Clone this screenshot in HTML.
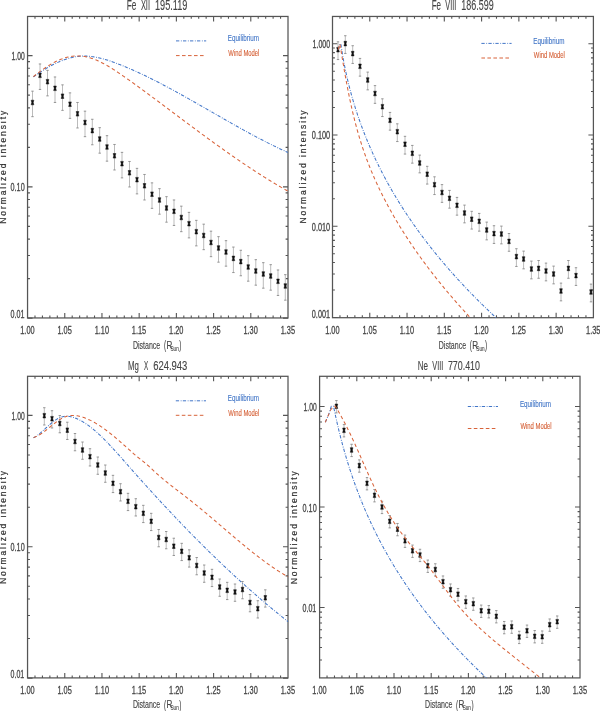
<!DOCTYPE html><html><head><meta charset="utf-8"><style>html,body{margin:0;padding:0;background:#fff;width:600px;height:711px;overflow:hidden}svg{display:block;will-change:transform}text{font-family:"Liberation Sans",sans-serif}</style></head><body>
<svg width="600" height="711" viewBox="0 0 600 711">
<rect width="600" height="711" fill="#fff"/>
<rect x="27.55" y="16.45" width="260.45" height="301.50" fill="none" stroke="#555" stroke-width="1.25"/>
<path d="M34.99 16.45v2.4M34.99 317.95v-2.4M42.43 16.45v2.4M42.43 317.95v-2.4M49.87 16.45v2.4M49.87 317.95v-2.4M57.32 16.45v2.4M57.32 317.95v-2.4M64.76 16.45v5.0M64.76 317.95v-5.0M72.20 16.45v2.4M72.20 317.95v-2.4M79.64 16.45v2.4M79.64 317.95v-2.4M87.08 16.45v2.4M87.08 317.95v-2.4M94.52 16.45v2.4M94.52 317.95v-2.4M101.96 16.45v5.0M101.96 317.95v-5.0M109.41 16.45v2.4M109.41 317.95v-2.4M116.85 16.45v2.4M116.85 317.95v-2.4M124.29 16.45v2.4M124.29 317.95v-2.4M131.73 16.45v2.4M131.73 317.95v-2.4M139.17 16.45v5.0M139.17 317.95v-5.0M146.61 16.45v2.4M146.61 317.95v-2.4M154.05 16.45v2.4M154.05 317.95v-2.4M161.50 16.45v2.4M161.50 317.95v-2.4M168.94 16.45v2.4M168.94 317.95v-2.4M176.38 16.45v5.0M176.38 317.95v-5.0M183.82 16.45v2.4M183.82 317.95v-2.4M191.26 16.45v2.4M191.26 317.95v-2.4M198.70 16.45v2.4M198.70 317.95v-2.4M206.14 16.45v2.4M206.14 317.95v-2.4M213.59 16.45v5.0M213.59 317.95v-5.0M221.03 16.45v2.4M221.03 317.95v-2.4M228.47 16.45v2.4M228.47 317.95v-2.4M235.91 16.45v2.4M235.91 317.95v-2.4M243.35 16.45v2.4M243.35 317.95v-2.4M250.79 16.45v5.0M250.79 317.95v-5.0M258.23 16.45v2.4M258.23 317.95v-2.4M265.68 16.45v2.4M265.68 317.95v-2.4M273.12 16.45v2.4M273.12 317.95v-2.4M280.56 16.45v2.4M280.56 317.95v-2.4M27.55 318.10h5.0M288.00 318.10h-5.0M27.55 278.59h2.4M288.00 278.59h-2.4M27.55 255.48h2.4M288.00 255.48h-2.4M27.55 239.08h2.4M288.00 239.08h-2.4M27.55 226.36h2.4M288.00 226.36h-2.4M27.55 215.97h2.4M288.00 215.97h-2.4M27.55 207.18h2.4M288.00 207.18h-2.4M27.55 199.57h2.4M288.00 199.57h-2.4M27.55 192.86h2.4M288.00 192.86h-2.4M27.55 186.85h5.0M288.00 186.85h-5.0M27.55 147.34h2.4M288.00 147.34h-2.4M27.55 124.23h2.4M288.00 124.23h-2.4M27.55 107.83h2.4M288.00 107.83h-2.4M27.55 95.11h2.4M288.00 95.11h-2.4M27.55 84.72h2.4M288.00 84.72h-2.4M27.55 75.93h2.4M288.00 75.93h-2.4M27.55 68.32h2.4M288.00 68.32h-2.4M27.55 61.61h2.4M288.00 61.61h-2.4M27.55 55.60h5.0M288.00 55.60h-5.0" fill="none" stroke="#555" stroke-width="1.1"/>
<rect x="332.50" y="16.45" width="260.90" height="301.25" fill="none" stroke="#555" stroke-width="1.25"/>
<path d="M339.95 16.45v2.4M339.95 317.70v-2.4M347.41 16.45v2.4M347.41 317.70v-2.4M354.86 16.45v2.4M354.86 317.70v-2.4M362.32 16.45v2.4M362.32 317.70v-2.4M369.77 16.45v5.0M369.77 317.70v-5.0M377.23 16.45v2.4M377.23 317.70v-2.4M384.68 16.45v2.4M384.68 317.70v-2.4M392.13 16.45v2.4M392.13 317.70v-2.4M399.59 16.45v2.4M399.59 317.70v-2.4M407.04 16.45v5.0M407.04 317.70v-5.0M414.50 16.45v2.4M414.50 317.70v-2.4M421.95 16.45v2.4M421.95 317.70v-2.4M429.41 16.45v2.4M429.41 317.70v-2.4M436.86 16.45v2.4M436.86 317.70v-2.4M444.31 16.45v5.0M444.31 317.70v-5.0M451.77 16.45v2.4M451.77 317.70v-2.4M459.22 16.45v2.4M459.22 317.70v-2.4M466.68 16.45v2.4M466.68 317.70v-2.4M474.13 16.45v2.4M474.13 317.70v-2.4M481.59 16.45v5.0M481.59 317.70v-5.0M489.04 16.45v2.4M489.04 317.70v-2.4M496.49 16.45v2.4M496.49 317.70v-2.4M503.95 16.45v2.4M503.95 317.70v-2.4M511.40 16.45v2.4M511.40 317.70v-2.4M518.86 16.45v5.0M518.86 317.70v-5.0M526.31 16.45v2.4M526.31 317.70v-2.4M533.77 16.45v2.4M533.77 317.70v-2.4M541.22 16.45v2.4M541.22 317.70v-2.4M548.67 16.45v2.4M548.67 317.70v-2.4M556.13 16.45v5.0M556.13 317.70v-5.0M563.58 16.45v2.4M563.58 317.70v-2.4M571.04 16.45v2.4M571.04 317.70v-2.4M578.49 16.45v2.4M578.49 317.70v-2.4M585.95 16.45v2.4M585.95 317.70v-2.4M332.50 317.50h5.0M593.40 317.50h-5.0M332.50 290.03h2.4M593.40 290.03h-2.4M332.50 273.96h2.4M593.40 273.96h-2.4M332.50 262.56h2.4M593.40 262.56h-2.4M332.50 253.72h2.4M593.40 253.72h-2.4M332.50 246.49h2.4M593.40 246.49h-2.4M332.50 240.38h2.4M593.40 240.38h-2.4M332.50 235.09h2.4M593.40 235.09h-2.4M332.50 230.43h2.4M593.40 230.43h-2.4M332.50 226.25h5.0M593.40 226.25h-5.0M332.50 198.78h2.4M593.40 198.78h-2.4M332.50 182.71h2.4M593.40 182.71h-2.4M332.50 171.31h2.4M593.40 171.31h-2.4M332.50 162.47h2.4M593.40 162.47h-2.4M332.50 155.24h2.4M593.40 155.24h-2.4M332.50 149.13h2.4M593.40 149.13h-2.4M332.50 143.84h2.4M593.40 143.84h-2.4M332.50 139.18h2.4M593.40 139.18h-2.4M332.50 135.00h5.0M593.40 135.00h-5.0M332.50 107.53h2.4M593.40 107.53h-2.4M332.50 91.46h2.4M593.40 91.46h-2.4M332.50 80.06h2.4M593.40 80.06h-2.4M332.50 71.22h2.4M593.40 71.22h-2.4M332.50 63.99h2.4M593.40 63.99h-2.4M332.50 57.88h2.4M593.40 57.88h-2.4M332.50 52.59h2.4M593.40 52.59h-2.4M332.50 47.93h2.4M593.40 47.93h-2.4M332.50 43.75h5.0M593.40 43.75h-5.0" fill="none" stroke="#555" stroke-width="1.1"/>
<rect x="27.55" y="376.30" width="260.45" height="301.60" fill="none" stroke="#555" stroke-width="1.25"/>
<path d="M34.99 376.30v2.4M34.99 677.90v-2.4M42.43 376.30v2.4M42.43 677.90v-2.4M49.87 376.30v2.4M49.87 677.90v-2.4M57.32 376.30v2.4M57.32 677.90v-2.4M64.76 376.30v5.0M64.76 677.90v-5.0M72.20 376.30v2.4M72.20 677.90v-2.4M79.64 376.30v2.4M79.64 677.90v-2.4M87.08 376.30v2.4M87.08 677.90v-2.4M94.52 376.30v2.4M94.52 677.90v-2.4M101.96 376.30v5.0M101.96 677.90v-5.0M109.41 376.30v2.4M109.41 677.90v-2.4M116.85 376.30v2.4M116.85 677.90v-2.4M124.29 376.30v2.4M124.29 677.90v-2.4M131.73 376.30v2.4M131.73 677.90v-2.4M139.17 376.30v5.0M139.17 677.90v-5.0M146.61 376.30v2.4M146.61 677.90v-2.4M154.05 376.30v2.4M154.05 677.90v-2.4M161.50 376.30v2.4M161.50 677.90v-2.4M168.94 376.30v2.4M168.94 677.90v-2.4M176.38 376.30v5.0M176.38 677.90v-5.0M183.82 376.30v2.4M183.82 677.90v-2.4M191.26 376.30v2.4M191.26 677.90v-2.4M198.70 376.30v2.4M198.70 677.90v-2.4M206.14 376.30v2.4M206.14 677.90v-2.4M213.59 376.30v5.0M213.59 677.90v-5.0M221.03 376.30v2.4M221.03 677.90v-2.4M228.47 376.30v2.4M228.47 677.90v-2.4M235.91 376.30v2.4M235.91 677.90v-2.4M243.35 376.30v2.4M243.35 677.90v-2.4M250.79 376.30v5.0M250.79 677.90v-5.0M258.23 376.30v2.4M258.23 677.90v-2.4M265.68 376.30v2.4M265.68 677.90v-2.4M273.12 376.30v2.4M273.12 677.90v-2.4M280.56 376.30v2.4M280.56 677.90v-2.4M27.55 678.10h5.0M288.00 678.10h-5.0M27.55 638.56h2.4M288.00 638.56h-2.4M27.55 615.43h2.4M288.00 615.43h-2.4M27.55 599.02h2.4M288.00 599.02h-2.4M27.55 586.29h2.4M288.00 586.29h-2.4M27.55 575.89h2.4M288.00 575.89h-2.4M27.55 567.10h2.4M288.00 567.10h-2.4M27.55 559.48h2.4M288.00 559.48h-2.4M27.55 552.76h2.4M288.00 552.76h-2.4M27.55 546.75h5.0M288.00 546.75h-5.0M27.55 507.21h2.4M288.00 507.21h-2.4M27.55 484.08h2.4M288.00 484.08h-2.4M27.55 467.67h2.4M288.00 467.67h-2.4M27.55 454.94h2.4M288.00 454.94h-2.4M27.55 444.54h2.4M288.00 444.54h-2.4M27.55 435.75h2.4M288.00 435.75h-2.4M27.55 428.13h2.4M288.00 428.13h-2.4M27.55 421.41h2.4M288.00 421.41h-2.4M27.55 415.40h5.0M288.00 415.40h-5.0" fill="none" stroke="#555" stroke-width="1.1"/>
<rect x="319.60" y="376.30" width="260.40" height="301.60" fill="none" stroke="#555" stroke-width="1.25"/>
<path d="M327.04 376.30v2.4M327.04 677.90v-2.4M334.48 376.30v2.4M334.48 677.90v-2.4M341.92 376.30v2.4M341.92 677.90v-2.4M349.36 376.30v2.4M349.36 677.90v-2.4M356.80 376.30v5.0M356.80 677.90v-5.0M364.24 376.30v2.4M364.24 677.90v-2.4M371.68 376.30v2.4M371.68 677.90v-2.4M379.12 376.30v2.4M379.12 677.90v-2.4M386.56 376.30v2.4M386.56 677.90v-2.4M394.00 376.30v5.0M394.00 677.90v-5.0M401.44 376.30v2.4M401.44 677.90v-2.4M408.88 376.30v2.4M408.88 677.90v-2.4M416.32 376.30v2.4M416.32 677.90v-2.4M423.76 376.30v2.4M423.76 677.90v-2.4M431.20 376.30v5.0M431.20 677.90v-5.0M438.64 376.30v2.4M438.64 677.90v-2.4M446.08 376.30v2.4M446.08 677.90v-2.4M453.52 376.30v2.4M453.52 677.90v-2.4M460.96 376.30v2.4M460.96 677.90v-2.4M468.40 376.30v5.0M468.40 677.90v-5.0M475.84 376.30v2.4M475.84 677.90v-2.4M483.28 376.30v2.4M483.28 677.90v-2.4M490.72 376.30v2.4M490.72 677.90v-2.4M498.16 376.30v2.4M498.16 677.90v-2.4M505.60 376.30v5.0M505.60 677.90v-5.0M513.04 376.30v2.4M513.04 677.90v-2.4M520.48 376.30v2.4M520.48 677.90v-2.4M527.92 376.30v2.4M527.92 677.90v-2.4M535.36 376.30v2.4M535.36 677.90v-2.4M542.80 376.30v5.0M542.80 677.90v-5.0M550.24 376.30v2.4M550.24 677.90v-2.4M557.68 376.30v2.4M557.68 677.90v-2.4M565.12 376.30v2.4M565.12 677.90v-2.4M572.56 376.30v2.4M572.56 677.90v-2.4M319.60 660.05h2.4M580.00 660.05h-2.4M319.60 647.49h2.4M580.00 647.49h-2.4M319.60 637.75h2.4M580.00 637.75h-2.4M319.60 629.80h2.4M580.00 629.80h-2.4M319.60 623.07h2.4M580.00 623.07h-2.4M319.60 617.24h2.4M580.00 617.24h-2.4M319.60 612.10h2.4M580.00 612.10h-2.4M319.60 607.50h5.0M580.00 607.50h-5.0M319.60 577.25h2.4M580.00 577.25h-2.4M319.60 559.55h2.4M580.00 559.55h-2.4M319.60 546.99h2.4M580.00 546.99h-2.4M319.60 537.25h2.4M580.00 537.25h-2.4M319.60 529.30h2.4M580.00 529.30h-2.4M319.60 522.57h2.4M580.00 522.57h-2.4M319.60 516.74h2.4M580.00 516.74h-2.4M319.60 511.60h2.4M580.00 511.60h-2.4M319.60 507.00h5.0M580.00 507.00h-5.0M319.60 476.75h2.4M580.00 476.75h-2.4M319.60 459.05h2.4M580.00 459.05h-2.4M319.60 446.49h2.4M580.00 446.49h-2.4M319.60 436.75h2.4M580.00 436.75h-2.4M319.60 428.80h2.4M580.00 428.80h-2.4M319.60 422.07h2.4M580.00 422.07h-2.4M319.60 416.24h2.4M580.00 416.24h-2.4M319.60 411.10h2.4M580.00 411.10h-2.4M319.60 406.50h5.0M580.00 406.50h-5.0" fill="none" stroke="#555" stroke-width="1.1"/>
<text x="20.24" y="334.20" font-size="11.32" textLength="14.35" lengthAdjust="spacingAndGlyphs" fill="#444" stroke="#444" stroke-width="0.3" >1.00</text>
<text x="57.44" y="334.20" font-size="11.32" textLength="14.37" lengthAdjust="spacingAndGlyphs" fill="#444" stroke="#444" stroke-width="0.3" >1.05</text>
<text x="94.65" y="334.20" font-size="11.32" textLength="14.35" lengthAdjust="spacingAndGlyphs" fill="#444" stroke="#444" stroke-width="0.3" >1.10</text>
<text x="131.86" y="334.20" font-size="11.32" textLength="14.37" lengthAdjust="spacingAndGlyphs" fill="#444" stroke="#444" stroke-width="0.3" >1.15</text>
<text x="169.07" y="334.20" font-size="11.32" textLength="14.35" lengthAdjust="spacingAndGlyphs" fill="#444" stroke="#444" stroke-width="0.3" >1.20</text>
<text x="206.27" y="334.20" font-size="11.32" textLength="14.37" lengthAdjust="spacingAndGlyphs" fill="#444" stroke="#444" stroke-width="0.3" >1.25</text>
<text x="243.48" y="334.20" font-size="11.32" textLength="14.35" lengthAdjust="spacingAndGlyphs" fill="#444" stroke="#444" stroke-width="0.3" >1.30</text>
<text x="280.69" y="334.20" font-size="11.32" textLength="14.37" lengthAdjust="spacingAndGlyphs" fill="#444" stroke="#444" stroke-width="0.3" >1.35</text>
<text x="325.19" y="334.20" font-size="11.32" textLength="14.35" lengthAdjust="spacingAndGlyphs" fill="#444" stroke="#444" stroke-width="0.3" >1.00</text>
<text x="362.46" y="334.20" font-size="11.32" textLength="14.37" lengthAdjust="spacingAndGlyphs" fill="#444" stroke="#444" stroke-width="0.3" >1.05</text>
<text x="399.73" y="334.20" font-size="11.32" textLength="14.35" lengthAdjust="spacingAndGlyphs" fill="#444" stroke="#444" stroke-width="0.3" >1.10</text>
<text x="437.00" y="334.20" font-size="11.32" textLength="14.37" lengthAdjust="spacingAndGlyphs" fill="#444" stroke="#444" stroke-width="0.3" >1.15</text>
<text x="474.27" y="334.20" font-size="11.32" textLength="14.35" lengthAdjust="spacingAndGlyphs" fill="#444" stroke="#444" stroke-width="0.3" >1.20</text>
<text x="511.54" y="334.20" font-size="11.32" textLength="14.37" lengthAdjust="spacingAndGlyphs" fill="#444" stroke="#444" stroke-width="0.3" >1.25</text>
<text x="548.82" y="334.20" font-size="11.32" textLength="14.35" lengthAdjust="spacingAndGlyphs" fill="#444" stroke="#444" stroke-width="0.3" >1.30</text>
<text x="586.09" y="334.20" font-size="11.32" textLength="14.37" lengthAdjust="spacingAndGlyphs" fill="#444" stroke="#444" stroke-width="0.3" >1.35</text>
<text x="20.24" y="694.00" font-size="11.32" textLength="14.35" lengthAdjust="spacingAndGlyphs" fill="#444" stroke="#444" stroke-width="0.3" >1.00</text>
<text x="57.44" y="694.00" font-size="11.32" textLength="14.37" lengthAdjust="spacingAndGlyphs" fill="#444" stroke="#444" stroke-width="0.3" >1.05</text>
<text x="94.65" y="694.00" font-size="11.32" textLength="14.35" lengthAdjust="spacingAndGlyphs" fill="#444" stroke="#444" stroke-width="0.3" >1.10</text>
<text x="131.86" y="694.00" font-size="11.32" textLength="14.37" lengthAdjust="spacingAndGlyphs" fill="#444" stroke="#444" stroke-width="0.3" >1.15</text>
<text x="169.07" y="694.00" font-size="11.32" textLength="14.35" lengthAdjust="spacingAndGlyphs" fill="#444" stroke="#444" stroke-width="0.3" >1.20</text>
<text x="206.27" y="694.00" font-size="11.32" textLength="14.37" lengthAdjust="spacingAndGlyphs" fill="#444" stroke="#444" stroke-width="0.3" >1.25</text>
<text x="243.48" y="694.00" font-size="11.32" textLength="14.35" lengthAdjust="spacingAndGlyphs" fill="#444" stroke="#444" stroke-width="0.3" >1.30</text>
<text x="280.69" y="694.00" font-size="11.32" textLength="14.37" lengthAdjust="spacingAndGlyphs" fill="#444" stroke="#444" stroke-width="0.3" >1.35</text>
<text x="312.29" y="694.00" font-size="11.32" textLength="14.35" lengthAdjust="spacingAndGlyphs" fill="#444" stroke="#444" stroke-width="0.3" >1.00</text>
<text x="349.49" y="694.00" font-size="11.32" textLength="14.37" lengthAdjust="spacingAndGlyphs" fill="#444" stroke="#444" stroke-width="0.3" >1.05</text>
<text x="386.69" y="694.00" font-size="11.32" textLength="14.35" lengthAdjust="spacingAndGlyphs" fill="#444" stroke="#444" stroke-width="0.3" >1.10</text>
<text x="423.89" y="694.00" font-size="11.32" textLength="14.37" lengthAdjust="spacingAndGlyphs" fill="#444" stroke="#444" stroke-width="0.3" >1.15</text>
<text x="461.09" y="694.00" font-size="11.32" textLength="14.35" lengthAdjust="spacingAndGlyphs" fill="#444" stroke="#444" stroke-width="0.3" >1.20</text>
<text x="498.29" y="694.00" font-size="11.32" textLength="14.37" lengthAdjust="spacingAndGlyphs" fill="#444" stroke="#444" stroke-width="0.3" >1.25</text>
<text x="535.49" y="694.00" font-size="11.32" textLength="14.35" lengthAdjust="spacingAndGlyphs" fill="#444" stroke="#444" stroke-width="0.3" >1.30</text>
<text x="572.69" y="694.00" font-size="11.32" textLength="14.37" lengthAdjust="spacingAndGlyphs" fill="#444" stroke="#444" stroke-width="0.3" >1.35</text>
<text x="11.59" y="59.90" font-size="10.10" textLength="13.07" lengthAdjust="spacingAndGlyphs" fill="#444" stroke="#444" stroke-width="0.3" >1.00</text>
<text x="10.57" y="191.40" font-size="11.53" textLength="14.12" lengthAdjust="spacingAndGlyphs" fill="#444" stroke="#444" stroke-width="0.3" >0.10</text>
<text x="10.57" y="318.15" font-size="11.17" textLength="13.93" lengthAdjust="spacingAndGlyphs" fill="#444" stroke="#444" stroke-width="0.3" >0.01</text>
<text x="312.56" y="48.15" font-size="11.17" textLength="17.61" lengthAdjust="spacingAndGlyphs" fill="#444" stroke="#444" stroke-width="0.3" >1.000</text>
<text x="311.81" y="139.40" font-size="10.82" textLength="18.37" lengthAdjust="spacingAndGlyphs" fill="#444" stroke="#444" stroke-width="0.3" >0.100</text>
<text x="311.81" y="230.90" font-size="10.82" textLength="18.37" lengthAdjust="spacingAndGlyphs" fill="#444" stroke="#444" stroke-width="0.3" >0.010</text>
<text x="311.82" y="318.15" font-size="10.89" textLength="18.19" lengthAdjust="spacingAndGlyphs" fill="#444" stroke="#444" stroke-width="0.3" >0.001</text>
<text x="11.59" y="420.45" font-size="11.17" textLength="13.07" lengthAdjust="spacingAndGlyphs" fill="#444" stroke="#444" stroke-width="0.3" >1.00</text>
<text x="10.57" y="551.40" font-size="11.53" textLength="14.12" lengthAdjust="spacingAndGlyphs" fill="#444" stroke="#444" stroke-width="0.3" >0.10</text>
<text x="10.58" y="678.40" font-size="11.53" textLength="13.67" lengthAdjust="spacingAndGlyphs" fill="#444" stroke="#444" stroke-width="0.3" >0.01</text>
<text x="303.59" y="410.65" font-size="10.46" textLength="13.07" lengthAdjust="spacingAndGlyphs" fill="#444" stroke="#444" stroke-width="0.3" >1.00</text>
<text x="302.57" y="511.65" font-size="11.53" textLength="14.12" lengthAdjust="spacingAndGlyphs" fill="#444" stroke="#444" stroke-width="0.3" >0.10</text>
<text x="302.58" y="611.90" font-size="10.46" textLength="13.67" lengthAdjust="spacingAndGlyphs" fill="#444" stroke="#444" stroke-width="0.3" >0.01</text>
<text x="126.67" y="10.30" font-size="14.10" textLength="9.65" lengthAdjust="spacingAndGlyphs" fill="#444" stroke="#444" stroke-width="0.12" >Fe</text>
<text x="140.88" y="10.30" font-size="14.10" textLength="9.16" lengthAdjust="spacingAndGlyphs" fill="#444" stroke="#444" stroke-width="0.12" >XII</text>
<text x="154.97" y="10.30" font-size="13.90" textLength="32.41" lengthAdjust="spacingAndGlyphs" fill="#444" stroke="#444" stroke-width="0.12" >195.119</text>
<text x="431.70" y="10.30" font-size="14.10" textLength="9.31" lengthAdjust="spacingAndGlyphs" fill="#444" stroke="#444" stroke-width="0.12" >Fe</text>
<text x="445.32" y="10.30" font-size="14.10" textLength="11.01" lengthAdjust="spacingAndGlyphs" fill="#444" stroke="#444" stroke-width="0.12" >VIII</text>
<text x="461.37" y="10.30" font-size="13.90" textLength="32.41" lengthAdjust="spacingAndGlyphs" fill="#444" stroke="#444" stroke-width="0.12" >186.599</text>
<text x="128.01" y="369.70" font-size="13.52" textLength="10.84" lengthAdjust="spacingAndGlyphs" fill="#444" stroke="#444" stroke-width="0.12" >Mg</text>
<text x="143.91" y="369.70" font-size="13.52" textLength="4.17" lengthAdjust="spacingAndGlyphs" fill="#444" stroke="#444" stroke-width="0.12" >X</text>
<text x="153.17" y="369.70" font-size="13.32" textLength="34.20" lengthAdjust="spacingAndGlyphs" fill="#444" stroke="#444" stroke-width="0.12" >624.943</text>
<text x="417.69" y="369.70" font-size="13.52" textLength="10.32" lengthAdjust="spacingAndGlyphs" fill="#444" stroke="#444" stroke-width="0.12" >Ne</text>
<text x="432.32" y="369.70" font-size="13.52" textLength="11.01" lengthAdjust="spacingAndGlyphs" fill="#444" stroke="#444" stroke-width="0.12" >VIII</text>
<text x="447.89" y="369.70" font-size="13.32" textLength="32.10" lengthAdjust="spacingAndGlyphs" fill="#444" stroke="#444" stroke-width="0.12" >770.410</text>
<text x="132.97" y="348.70" font-size="11.48" textLength="27.29" lengthAdjust="spacingAndGlyphs" fill="#444" stroke="#444" stroke-width="0.15" >Distance</text>
<text x="163.95" y="349.30" font-size="12.60" textLength="2.14" lengthAdjust="spacingAndGlyphs" fill="#444" stroke="#444" stroke-width="0.15" >(</text>
<text x="166.39" y="348.70" font-size="11.48" textLength="5.84" lengthAdjust="spacingAndGlyphs" fill="#444" stroke="#444" stroke-width="0.15" >R</text>
<text x="170.54" y="350.60" font-size="6.76" textLength="8.21" lengthAdjust="spacingAndGlyphs" fill="#444" stroke="#444" stroke-width="0.12" >Sun</text>
<text x="179.31" y="349.30" font-size="12.60" textLength="2.14" lengthAdjust="spacingAndGlyphs" fill="#444" stroke="#444" stroke-width="0.15" >)</text>
<text x="438.77" y="348.70" font-size="11.48" textLength="27.29" lengthAdjust="spacingAndGlyphs" fill="#444" stroke="#444" stroke-width="0.15" >Distance</text>
<text x="469.75" y="349.30" font-size="12.60" textLength="2.14" lengthAdjust="spacingAndGlyphs" fill="#444" stroke="#444" stroke-width="0.15" >(</text>
<text x="472.19" y="348.70" font-size="11.48" textLength="5.84" lengthAdjust="spacingAndGlyphs" fill="#444" stroke="#444" stroke-width="0.15" >R</text>
<text x="476.34" y="350.60" font-size="6.76" textLength="8.21" lengthAdjust="spacingAndGlyphs" fill="#444" stroke="#444" stroke-width="0.12" >Sun</text>
<text x="485.11" y="349.30" font-size="12.60" textLength="2.14" lengthAdjust="spacingAndGlyphs" fill="#444" stroke="#444" stroke-width="0.15" >)</text>
<text x="132.97" y="707.90" font-size="11.48" textLength="27.29" lengthAdjust="spacingAndGlyphs" fill="#444" stroke="#444" stroke-width="0.15" >Distance</text>
<text x="163.95" y="708.50" font-size="12.60" textLength="2.14" lengthAdjust="spacingAndGlyphs" fill="#444" stroke="#444" stroke-width="0.15" >(</text>
<text x="166.39" y="707.90" font-size="11.48" textLength="5.84" lengthAdjust="spacingAndGlyphs" fill="#444" stroke="#444" stroke-width="0.15" >R</text>
<text x="170.54" y="709.80" font-size="6.76" textLength="8.21" lengthAdjust="spacingAndGlyphs" fill="#444" stroke="#444" stroke-width="0.12" >Sun</text>
<text x="179.31" y="708.50" font-size="12.60" textLength="2.14" lengthAdjust="spacingAndGlyphs" fill="#444" stroke="#444" stroke-width="0.15" >)</text>
<text x="425.07" y="707.90" font-size="11.48" textLength="27.29" lengthAdjust="spacingAndGlyphs" fill="#444" stroke="#444" stroke-width="0.15" >Distance</text>
<text x="456.05" y="708.50" font-size="12.60" textLength="2.14" lengthAdjust="spacingAndGlyphs" fill="#444" stroke="#444" stroke-width="0.15" >(</text>
<text x="458.49" y="707.90" font-size="11.48" textLength="5.84" lengthAdjust="spacingAndGlyphs" fill="#444" stroke="#444" stroke-width="0.15" >R</text>
<text x="462.64" y="709.80" font-size="6.76" textLength="8.21" lengthAdjust="spacingAndGlyphs" fill="#444" stroke="#444" stroke-width="0.12" >Sun</text>
<text x="471.41" y="708.50" font-size="12.60" textLength="2.14" lengthAdjust="spacingAndGlyphs" fill="#444" stroke="#444" stroke-width="0.15" >)</text>
<text x="0" y="0" font-size="8.5" text-anchor="middle" textLength="113" lengthAdjust="spacing" fill="#333" stroke="#333" stroke-width="0.2" transform="translate(5.60,167.30) rotate(-90)">Normalized intensity</text>
<text x="0" y="0" font-size="8.5" text-anchor="middle" textLength="113" lengthAdjust="spacing" fill="#333" stroke="#333" stroke-width="0.2" transform="translate(305.90,167.00) rotate(-90)">Normalized intensity</text>
<text x="0" y="0" font-size="8.5" text-anchor="middle" textLength="113" lengthAdjust="spacing" fill="#333" stroke="#333" stroke-width="0.2" transform="translate(5.60,527.50) rotate(-90)">Normalized intensity</text>
<text x="0" y="0" font-size="8.5" text-anchor="middle" textLength="113" lengthAdjust="spacing" fill="#333" stroke="#333" stroke-width="0.2" transform="translate(296.50,527.80) rotate(-90)">Normalized intensity</text>
<path d="M176.00 40.90H206.20" stroke="#4276c8" stroke-width="1.0" stroke-dasharray="3.3 1.6 0.8 1.3"/>
<path d="M176.00 55.60H204.40" stroke="#d8633a" stroke-width="1.0" stroke-dasharray="3.6 2.4"/>
<text x="227.84" y="41.10" font-size="9.38" textLength="31.03" lengthAdjust="spacingAndGlyphs" fill="#3f74c6" stroke="#3f74c6" stroke-width="0.12" >Equilibrium</text>
<text x="228.32" y="55.50" font-size="8.69" textLength="31.12" lengthAdjust="spacingAndGlyphs" fill="#d55f35" stroke="#d55f35" stroke-width="0.12" >Wind Model</text>
<path d="M481.40 43.40H511.60" stroke="#4276c8" stroke-width="1.0" stroke-dasharray="3.3 1.6 0.8 1.3"/>
<path d="M481.40 58.00H509.80" stroke="#d8633a" stroke-width="1.0" stroke-dasharray="3.6 2.4"/>
<text x="533.34" y="43.90" font-size="9.38" textLength="31.03" lengthAdjust="spacingAndGlyphs" fill="#3f74c6" stroke="#3f74c6" stroke-width="0.12" >Equilibrium</text>
<text x="533.82" y="57.75" font-size="8.69" textLength="31.12" lengthAdjust="spacingAndGlyphs" fill="#d55f35" stroke="#d55f35" stroke-width="0.12" >Wind Model</text>
<path d="M175.80 400.80H206.00" stroke="#4276c8" stroke-width="1.0" stroke-dasharray="3.3 1.6 0.8 1.3"/>
<path d="M175.80 415.30H204.20" stroke="#d8633a" stroke-width="1.0" stroke-dasharray="3.6 2.4"/>
<text x="227.84" y="401.30" font-size="9.38" textLength="31.03" lengthAdjust="spacingAndGlyphs" fill="#3f74c6" stroke="#3f74c6" stroke-width="0.12" >Equilibrium</text>
<text x="228.32" y="415.80" font-size="8.69" textLength="31.12" lengthAdjust="spacingAndGlyphs" fill="#d55f35" stroke="#d55f35" stroke-width="0.12" >Wind Model</text>
<path d="M467.80 406.50H498.00" stroke="#4276c8" stroke-width="1.0" stroke-dasharray="3.3 1.6 0.8 1.3"/>
<path d="M467.80 428.50H496.20" stroke="#d8633a" stroke-width="1.0" stroke-dasharray="3.6 2.4"/>
<text x="519.94" y="407.40" font-size="9.38" textLength="31.03" lengthAdjust="spacingAndGlyphs" fill="#3f74c6" stroke="#3f74c6" stroke-width="0.12" >Equilibrium</text>
<text x="520.42" y="429.40" font-size="8.69" textLength="31.12" lengthAdjust="spacingAndGlyphs" fill="#d55f35" stroke="#d55f35" stroke-width="0.12" >Wind Model</text>
<path d="M32.50 91.17V116.66M40.00 63.97V89.46M47.50 70.37V95.86M55.00 76.97V102.46M62.50 84.87V110.36M70.00 92.87V118.36M77.50 102.47V127.96M85.00 111.17V136.66M92.30 119.27V144.76M99.70 127.67V153.16M107.00 135.67V161.16M114.50 144.47V169.96M122.00 152.37V177.86M129.50 161.47V186.96M137.00 168.37V193.86M144.50 174.47V199.96M152.00 182.87V208.36M159.50 188.67V214.16M166.50 196.67V222.16M174.00 199.97V225.46M181.30 206.17V231.66M189.00 212.37V237.86M196.30 220.37V245.86M203.70 224.17V249.66M211.00 231.17V256.66M218.50 236.67V262.16M226.00 240.67V266.16M233.40 247.07V272.56M240.80 250.27V275.76M248.20 255.67V281.16M255.80 259.67V285.16M263.30 262.67V288.16M270.70 264.67V290.16M278.00 269.97V295.46M285.30 274.67V300.16" stroke="#bbb" stroke-width="1.0" fill="none"/>
<path d="M31.30 91.17h2.4M31.30 116.66h2.4M38.80 63.97h2.4M38.80 89.46h2.4M46.30 70.37h2.4M46.30 95.86h2.4M53.80 76.97h2.4M53.80 102.46h2.4M61.30 84.87h2.4M61.30 110.36h2.4M68.80 92.87h2.4M68.80 118.36h2.4M76.30 102.47h2.4M76.30 127.96h2.4M83.80 111.17h2.4M83.80 136.66h2.4M91.10 119.27h2.4M91.10 144.76h2.4M98.50 127.67h2.4M98.50 153.16h2.4M105.80 135.67h2.4M105.80 161.16h2.4M113.30 144.47h2.4M113.30 169.96h2.4M120.80 152.37h2.4M120.80 177.86h2.4M128.30 161.47h2.4M128.30 186.96h2.4M135.80 168.37h2.4M135.80 193.86h2.4M143.30 174.47h2.4M143.30 199.96h2.4M150.80 182.87h2.4M150.80 208.36h2.4M158.30 188.67h2.4M158.30 214.16h2.4M165.30 196.67h2.4M165.30 222.16h2.4M172.80 199.97h2.4M172.80 225.46h2.4M180.10 206.17h2.4M180.10 231.66h2.4M187.80 212.37h2.4M187.80 237.86h2.4M195.10 220.37h2.4M195.10 245.86h2.4M202.50 224.17h2.4M202.50 249.66h2.4M209.80 231.17h2.4M209.80 256.66h2.4M217.30 236.67h2.4M217.30 262.16h2.4M224.80 240.67h2.4M224.80 266.16h2.4M232.20 247.07h2.4M232.20 272.56h2.4M239.60 250.27h2.4M239.60 275.76h2.4M247.00 255.67h2.4M247.00 281.16h2.4M254.60 259.67h2.4M254.60 285.16h2.4M262.10 262.67h2.4M262.10 288.16h2.4M269.50 264.67h2.4M269.50 290.16h2.4M276.80 269.97h2.4M276.80 295.46h2.4M284.10 274.67h2.4M284.10 300.16h2.4" stroke="#8a8a8a" stroke-width="0.9" fill="none"/>
<path d="M31.15 100.20h2.7l-0.6 2.3l0.6 2.3h-2.7l0.6 -2.3zM38.65 73.00h2.7l-0.6 2.3l0.6 2.3h-2.7l0.6 -2.3zM46.15 79.40h2.7l-0.6 2.3l0.6 2.3h-2.7l0.6 -2.3zM53.65 86.00h2.7l-0.6 2.3l0.6 2.3h-2.7l0.6 -2.3zM61.15 93.90h2.7l-0.6 2.3l0.6 2.3h-2.7l0.6 -2.3zM68.65 101.90h2.7l-0.6 2.3l0.6 2.3h-2.7l0.6 -2.3zM76.15 111.50h2.7l-0.6 2.3l0.6 2.3h-2.7l0.6 -2.3zM83.65 120.20h2.7l-0.6 2.3l0.6 2.3h-2.7l0.6 -2.3zM90.95 128.30h2.7l-0.6 2.3l0.6 2.3h-2.7l0.6 -2.3zM98.35 136.70h2.7l-0.6 2.3l0.6 2.3h-2.7l0.6 -2.3zM105.65 144.70h2.7l-0.6 2.3l0.6 2.3h-2.7l0.6 -2.3zM113.15 153.50h2.7l-0.6 2.3l0.6 2.3h-2.7l0.6 -2.3zM120.65 161.40h2.7l-0.6 2.3l0.6 2.3h-2.7l0.6 -2.3zM128.15 170.50h2.7l-0.6 2.3l0.6 2.3h-2.7l0.6 -2.3zM135.65 177.40h2.7l-0.6 2.3l0.6 2.3h-2.7l0.6 -2.3zM143.15 183.50h2.7l-0.6 2.3l0.6 2.3h-2.7l0.6 -2.3zM150.65 191.90h2.7l-0.6 2.3l0.6 2.3h-2.7l0.6 -2.3zM158.15 197.70h2.7l-0.6 2.3l0.6 2.3h-2.7l0.6 -2.3zM165.15 205.70h2.7l-0.6 2.3l0.6 2.3h-2.7l0.6 -2.3zM172.65 209.00h2.7l-0.6 2.3l0.6 2.3h-2.7l0.6 -2.3zM179.95 215.20h2.7l-0.6 2.3l0.6 2.3h-2.7l0.6 -2.3zM187.65 221.40h2.7l-0.6 2.3l0.6 2.3h-2.7l0.6 -2.3zM194.95 229.40h2.7l-0.6 2.3l0.6 2.3h-2.7l0.6 -2.3zM202.35 233.20h2.7l-0.6 2.3l0.6 2.3h-2.7l0.6 -2.3zM209.65 240.20h2.7l-0.6 2.3l0.6 2.3h-2.7l0.6 -2.3zM217.15 245.70h2.7l-0.6 2.3l0.6 2.3h-2.7l0.6 -2.3zM224.65 249.70h2.7l-0.6 2.3l0.6 2.3h-2.7l0.6 -2.3zM232.05 256.10h2.7l-0.6 2.3l0.6 2.3h-2.7l0.6 -2.3zM239.45 259.30h2.7l-0.6 2.3l0.6 2.3h-2.7l0.6 -2.3zM246.85 264.70h2.7l-0.6 2.3l0.6 2.3h-2.7l0.6 -2.3zM254.45 268.70h2.7l-0.6 2.3l0.6 2.3h-2.7l0.6 -2.3zM261.95 271.70h2.7l-0.6 2.3l0.6 2.3h-2.7l0.6 -2.3zM269.35 273.70h2.7l-0.6 2.3l0.6 2.3h-2.7l0.6 -2.3zM276.65 279.00h2.7l-0.6 2.3l0.6 2.3h-2.7l0.6 -2.3zM283.95 283.70h2.7l-0.6 2.3l0.6 2.3h-2.7l0.6 -2.3z" fill="#111" stroke="#111" stroke-width="0.5"/>
<path d="M338.00 41.82V59.55M345.30 35.72V53.45M352.70 45.72V63.45M360.00 58.42V76.15M367.70 72.12V89.85M375.00 85.62V103.35M382.40 98.82V116.55M390.00 112.42V130.15M397.30 123.82V141.55M405.00 136.32V154.05M412.30 145.42V163.15M419.70 155.12V172.85M427.20 166.32V184.05M434.50 176.82V194.55M442.00 184.62V202.35M449.50 190.42V208.15M457.00 197.42V215.15M464.50 205.12V222.85M471.70 211.32V229.05M479.20 213.42V231.15M486.70 222.12V239.85M494.00 225.72V243.45M501.40 226.12V243.85M509.00 233.52V251.25M516.40 248.72V266.45M523.60 251.12V268.85M531.40 261.12V278.85M538.60 260.52V278.25M546.00 263.12V280.85M553.60 266.12V283.85M561.00 283.12V300.85M568.40 260.52V278.25M576.00 267.72V285.45M591.00 284.12V301.85" stroke="#bbb" stroke-width="1.0" fill="none"/>
<path d="M336.80 41.82h2.4M336.80 59.55h2.4M344.10 35.72h2.4M344.10 53.45h2.4M351.50 45.72h2.4M351.50 63.45h2.4M358.80 58.42h2.4M358.80 76.15h2.4M366.50 72.12h2.4M366.50 89.85h2.4M373.80 85.62h2.4M373.80 103.35h2.4M381.20 98.82h2.4M381.20 116.55h2.4M388.80 112.42h2.4M388.80 130.15h2.4M396.10 123.82h2.4M396.10 141.55h2.4M403.80 136.32h2.4M403.80 154.05h2.4M411.10 145.42h2.4M411.10 163.15h2.4M418.50 155.12h2.4M418.50 172.85h2.4M426.00 166.32h2.4M426.00 184.05h2.4M433.30 176.82h2.4M433.30 194.55h2.4M440.80 184.62h2.4M440.80 202.35h2.4M448.30 190.42h2.4M448.30 208.15h2.4M455.80 197.42h2.4M455.80 215.15h2.4M463.30 205.12h2.4M463.30 222.85h2.4M470.50 211.32h2.4M470.50 229.05h2.4M478.00 213.42h2.4M478.00 231.15h2.4M485.50 222.12h2.4M485.50 239.85h2.4M492.80 225.72h2.4M492.80 243.45h2.4M500.20 226.12h2.4M500.20 243.85h2.4M507.80 233.52h2.4M507.80 251.25h2.4M515.20 248.72h2.4M515.20 266.45h2.4M522.40 251.12h2.4M522.40 268.85h2.4M530.20 261.12h2.4M530.20 278.85h2.4M537.40 260.52h2.4M537.40 278.25h2.4M544.80 263.12h2.4M544.80 280.85h2.4M552.40 266.12h2.4M552.40 283.85h2.4M559.80 283.12h2.4M559.80 300.85h2.4M567.20 260.52h2.4M567.20 278.25h2.4M574.80 267.72h2.4M574.80 285.45h2.4M589.80 284.12h2.4M589.80 301.85h2.4" stroke="#8a8a8a" stroke-width="0.9" fill="none"/>
<path d="M336.65 47.40h2.7l-0.6 2.3l0.6 2.3h-2.7l0.6 -2.3zM343.95 41.30h2.7l-0.6 2.3l0.6 2.3h-2.7l0.6 -2.3zM351.35 51.30h2.7l-0.6 2.3l0.6 2.3h-2.7l0.6 -2.3zM358.65 64.00h2.7l-0.6 2.3l0.6 2.3h-2.7l0.6 -2.3zM366.35 77.70h2.7l-0.6 2.3l0.6 2.3h-2.7l0.6 -2.3zM373.65 91.20h2.7l-0.6 2.3l0.6 2.3h-2.7l0.6 -2.3zM381.05 104.40h2.7l-0.6 2.3l0.6 2.3h-2.7l0.6 -2.3zM388.65 118.00h2.7l-0.6 2.3l0.6 2.3h-2.7l0.6 -2.3zM395.95 129.40h2.7l-0.6 2.3l0.6 2.3h-2.7l0.6 -2.3zM403.65 141.90h2.7l-0.6 2.3l0.6 2.3h-2.7l0.6 -2.3zM410.95 151.00h2.7l-0.6 2.3l0.6 2.3h-2.7l0.6 -2.3zM418.35 160.70h2.7l-0.6 2.3l0.6 2.3h-2.7l0.6 -2.3zM425.85 171.90h2.7l-0.6 2.3l0.6 2.3h-2.7l0.6 -2.3zM433.15 182.40h2.7l-0.6 2.3l0.6 2.3h-2.7l0.6 -2.3zM440.65 190.20h2.7l-0.6 2.3l0.6 2.3h-2.7l0.6 -2.3zM448.15 196.00h2.7l-0.6 2.3l0.6 2.3h-2.7l0.6 -2.3zM455.65 203.00h2.7l-0.6 2.3l0.6 2.3h-2.7l0.6 -2.3zM463.15 210.70h2.7l-0.6 2.3l0.6 2.3h-2.7l0.6 -2.3zM470.35 216.90h2.7l-0.6 2.3l0.6 2.3h-2.7l0.6 -2.3zM477.85 219.00h2.7l-0.6 2.3l0.6 2.3h-2.7l0.6 -2.3zM485.35 227.70h2.7l-0.6 2.3l0.6 2.3h-2.7l0.6 -2.3zM492.65 231.30h2.7l-0.6 2.3l0.6 2.3h-2.7l0.6 -2.3zM500.05 231.70h2.7l-0.6 2.3l0.6 2.3h-2.7l0.6 -2.3zM507.65 239.10h2.7l-0.6 2.3l0.6 2.3h-2.7l0.6 -2.3zM515.05 254.30h2.7l-0.6 2.3l0.6 2.3h-2.7l0.6 -2.3zM522.25 256.70h2.7l-0.6 2.3l0.6 2.3h-2.7l0.6 -2.3zM530.05 266.70h2.7l-0.6 2.3l0.6 2.3h-2.7l0.6 -2.3zM537.25 266.10h2.7l-0.6 2.3l0.6 2.3h-2.7l0.6 -2.3zM544.65 268.70h2.7l-0.6 2.3l0.6 2.3h-2.7l0.6 -2.3zM552.25 271.70h2.7l-0.6 2.3l0.6 2.3h-2.7l0.6 -2.3zM559.65 288.70h2.7l-0.6 2.3l0.6 2.3h-2.7l0.6 -2.3zM567.05 266.10h2.7l-0.6 2.3l0.6 2.3h-2.7l0.6 -2.3zM574.65 273.30h2.7l-0.6 2.3l0.6 2.3h-2.7l0.6 -2.3zM589.65 289.70h2.7l-0.6 2.3l0.6 2.3h-2.7l0.6 -2.3z" fill="#111" stroke="#111" stroke-width="0.5"/>
<path d="M44.30 407.73V424.97M52.00 410.73V427.97M59.80 415.53V432.77M67.30 422.23V439.47M75.00 433.53V450.77M82.50 442.03V459.27M90.00 448.73V465.97M97.80 457.03V474.27M105.30 465.03V482.27M113.00 475.33V492.57M120.50 483.73V500.97M128.00 493.33V510.57M135.80 498.73V515.97M143.30 505.33V522.57M151.20 513.33V530.57M158.70 529.53V546.77M166.20 531.53V548.77M173.80 538.23V555.47M181.70 543.33V560.57M189.20 549.83V567.07M196.70 557.53V574.77M204.20 565.03V582.27M212.00 569.33V586.57M219.70 579.03V596.27M227.20 582.33V599.57M235.00 584.03V601.27M242.50 581.53V598.77M250.00 594.53V611.77M257.80 600.73V617.97M265.30 589.83V607.07" stroke="#bbb" stroke-width="1.0" fill="none"/>
<path d="M43.10 407.73h2.4M43.10 424.97h2.4M50.80 410.73h2.4M50.80 427.97h2.4M58.60 415.53h2.4M58.60 432.77h2.4M66.10 422.23h2.4M66.10 439.47h2.4M73.80 433.53h2.4M73.80 450.77h2.4M81.30 442.03h2.4M81.30 459.27h2.4M88.80 448.73h2.4M88.80 465.97h2.4M96.60 457.03h2.4M96.60 474.27h2.4M104.10 465.03h2.4M104.10 482.27h2.4M111.80 475.33h2.4M111.80 492.57h2.4M119.30 483.73h2.4M119.30 500.97h2.4M126.80 493.33h2.4M126.80 510.57h2.4M134.60 498.73h2.4M134.60 515.97h2.4M142.10 505.33h2.4M142.10 522.57h2.4M150.00 513.33h2.4M150.00 530.57h2.4M157.50 529.53h2.4M157.50 546.77h2.4M165.00 531.53h2.4M165.00 548.77h2.4M172.60 538.23h2.4M172.60 555.47h2.4M180.50 543.33h2.4M180.50 560.57h2.4M188.00 549.83h2.4M188.00 567.07h2.4M195.50 557.53h2.4M195.50 574.77h2.4M203.00 565.03h2.4M203.00 582.27h2.4M210.80 569.33h2.4M210.80 586.57h2.4M218.50 579.03h2.4M218.50 596.27h2.4M226.00 582.33h2.4M226.00 599.57h2.4M233.80 584.03h2.4M233.80 601.27h2.4M241.30 581.53h2.4M241.30 598.77h2.4M248.80 594.53h2.4M248.80 611.77h2.4M256.60 600.73h2.4M256.60 617.97h2.4M264.10 589.83h2.4M264.10 607.07h2.4" stroke="#8a8a8a" stroke-width="0.9" fill="none"/>
<path d="M42.95 413.40h2.7l-0.6 2.3l0.6 2.3h-2.7l0.6 -2.3zM50.65 416.40h2.7l-0.6 2.3l0.6 2.3h-2.7l0.6 -2.3zM58.45 421.20h2.7l-0.6 2.3l0.6 2.3h-2.7l0.6 -2.3zM65.95 427.90h2.7l-0.6 2.3l0.6 2.3h-2.7l0.6 -2.3zM73.65 439.20h2.7l-0.6 2.3l0.6 2.3h-2.7l0.6 -2.3zM81.15 447.70h2.7l-0.6 2.3l0.6 2.3h-2.7l0.6 -2.3zM88.65 454.40h2.7l-0.6 2.3l0.6 2.3h-2.7l0.6 -2.3zM96.45 462.70h2.7l-0.6 2.3l0.6 2.3h-2.7l0.6 -2.3zM103.95 470.70h2.7l-0.6 2.3l0.6 2.3h-2.7l0.6 -2.3zM111.65 481.00h2.7l-0.6 2.3l0.6 2.3h-2.7l0.6 -2.3zM119.15 489.40h2.7l-0.6 2.3l0.6 2.3h-2.7l0.6 -2.3zM126.65 499.00h2.7l-0.6 2.3l0.6 2.3h-2.7l0.6 -2.3zM134.45 504.40h2.7l-0.6 2.3l0.6 2.3h-2.7l0.6 -2.3zM141.95 511.00h2.7l-0.6 2.3l0.6 2.3h-2.7l0.6 -2.3zM149.85 519.00h2.7l-0.6 2.3l0.6 2.3h-2.7l0.6 -2.3zM157.35 535.20h2.7l-0.6 2.3l0.6 2.3h-2.7l0.6 -2.3zM164.85 537.20h2.7l-0.6 2.3l0.6 2.3h-2.7l0.6 -2.3zM172.45 543.90h2.7l-0.6 2.3l0.6 2.3h-2.7l0.6 -2.3zM180.35 549.00h2.7l-0.6 2.3l0.6 2.3h-2.7l0.6 -2.3zM187.85 555.50h2.7l-0.6 2.3l0.6 2.3h-2.7l0.6 -2.3zM195.35 563.20h2.7l-0.6 2.3l0.6 2.3h-2.7l0.6 -2.3zM202.85 570.70h2.7l-0.6 2.3l0.6 2.3h-2.7l0.6 -2.3zM210.65 575.00h2.7l-0.6 2.3l0.6 2.3h-2.7l0.6 -2.3zM218.35 584.70h2.7l-0.6 2.3l0.6 2.3h-2.7l0.6 -2.3zM225.85 588.00h2.7l-0.6 2.3l0.6 2.3h-2.7l0.6 -2.3zM233.65 589.70h2.7l-0.6 2.3l0.6 2.3h-2.7l0.6 -2.3zM241.15 587.20h2.7l-0.6 2.3l0.6 2.3h-2.7l0.6 -2.3zM248.65 600.20h2.7l-0.6 2.3l0.6 2.3h-2.7l0.6 -2.3zM256.45 606.40h2.7l-0.6 2.3l0.6 2.3h-2.7l0.6 -2.3zM263.95 595.50h2.7l-0.6 2.3l0.6 2.3h-2.7l0.6 -2.3z" fill="#111" stroke="#111" stroke-width="0.5"/>
<path d="M336.40 400.58V412.88M344.00 424.58V436.88M351.60 444.28V456.58M359.30 459.88V472.18M367.00 477.58V489.88M374.50 489.58V501.88M382.00 501.28V513.58M389.70 515.58V527.88M397.50 523.48V535.78M405.00 535.08V547.38M412.50 545.08V557.38M420.00 549.28V561.58M427.80 560.08V572.38M435.30 563.78V576.08M443.00 575.98V588.28M450.50 583.98V596.28M458.00 588.48V600.78M465.80 595.98V608.28M473.30 597.98V610.28M481.20 605.08V617.38M488.80 605.58V617.88M496.30 610.58V622.88M504.20 621.48V633.78M511.70 620.98V633.28M519.20 631.28V643.58M527.00 625.08V637.38M534.70 630.58V642.88M542.20 630.98V643.28M549.70 618.98V631.28M557.20 615.98V628.28" stroke="#bbb" stroke-width="1.0" fill="none"/>
<path d="M335.20 400.58h2.4M335.20 412.88h2.4M342.80 424.58h2.4M342.80 436.88h2.4M350.40 444.28h2.4M350.40 456.58h2.4M358.10 459.88h2.4M358.10 472.18h2.4M365.80 477.58h2.4M365.80 489.88h2.4M373.30 489.58h2.4M373.30 501.88h2.4M380.80 501.28h2.4M380.80 513.58h2.4M388.50 515.58h2.4M388.50 527.88h2.4M396.30 523.48h2.4M396.30 535.78h2.4M403.80 535.08h2.4M403.80 547.38h2.4M411.30 545.08h2.4M411.30 557.38h2.4M418.80 549.28h2.4M418.80 561.58h2.4M426.60 560.08h2.4M426.60 572.38h2.4M434.10 563.78h2.4M434.10 576.08h2.4M441.80 575.98h2.4M441.80 588.28h2.4M449.30 583.98h2.4M449.30 596.28h2.4M456.80 588.48h2.4M456.80 600.78h2.4M464.60 595.98h2.4M464.60 608.28h2.4M472.10 597.98h2.4M472.10 610.28h2.4M480.00 605.08h2.4M480.00 617.38h2.4M487.60 605.58h2.4M487.60 617.88h2.4M495.10 610.58h2.4M495.10 622.88h2.4M503.00 621.48h2.4M503.00 633.78h2.4M510.50 620.98h2.4M510.50 633.28h2.4M518.00 631.28h2.4M518.00 643.58h2.4M525.80 625.08h2.4M525.80 637.38h2.4M533.50 630.58h2.4M533.50 642.88h2.4M541.00 630.98h2.4M541.00 643.28h2.4M548.50 618.98h2.4M548.50 631.28h2.4M556.00 615.98h2.4M556.00 628.28h2.4" stroke="#8a8a8a" stroke-width="0.9" fill="none"/>
<path d="M335.05 404.00h2.7l-0.6 2.3l0.6 2.3h-2.7l0.6 -2.3zM342.65 428.00h2.7l-0.6 2.3l0.6 2.3h-2.7l0.6 -2.3zM350.25 447.70h2.7l-0.6 2.3l0.6 2.3h-2.7l0.6 -2.3zM357.95 463.30h2.7l-0.6 2.3l0.6 2.3h-2.7l0.6 -2.3zM365.65 481.00h2.7l-0.6 2.3l0.6 2.3h-2.7l0.6 -2.3zM373.15 493.00h2.7l-0.6 2.3l0.6 2.3h-2.7l0.6 -2.3zM380.65 504.70h2.7l-0.6 2.3l0.6 2.3h-2.7l0.6 -2.3zM388.35 519.00h2.7l-0.6 2.3l0.6 2.3h-2.7l0.6 -2.3zM396.15 526.90h2.7l-0.6 2.3l0.6 2.3h-2.7l0.6 -2.3zM403.65 538.50h2.7l-0.6 2.3l0.6 2.3h-2.7l0.6 -2.3zM411.15 548.50h2.7l-0.6 2.3l0.6 2.3h-2.7l0.6 -2.3zM418.65 552.70h2.7l-0.6 2.3l0.6 2.3h-2.7l0.6 -2.3zM426.45 563.50h2.7l-0.6 2.3l0.6 2.3h-2.7l0.6 -2.3zM433.95 567.20h2.7l-0.6 2.3l0.6 2.3h-2.7l0.6 -2.3zM441.65 579.40h2.7l-0.6 2.3l0.6 2.3h-2.7l0.6 -2.3zM449.15 587.40h2.7l-0.6 2.3l0.6 2.3h-2.7l0.6 -2.3zM456.65 591.90h2.7l-0.6 2.3l0.6 2.3h-2.7l0.6 -2.3zM464.45 599.40h2.7l-0.6 2.3l0.6 2.3h-2.7l0.6 -2.3zM471.95 601.40h2.7l-0.6 2.3l0.6 2.3h-2.7l0.6 -2.3zM479.85 608.50h2.7l-0.6 2.3l0.6 2.3h-2.7l0.6 -2.3zM487.45 609.00h2.7l-0.6 2.3l0.6 2.3h-2.7l0.6 -2.3zM494.95 614.00h2.7l-0.6 2.3l0.6 2.3h-2.7l0.6 -2.3zM502.85 624.90h2.7l-0.6 2.3l0.6 2.3h-2.7l0.6 -2.3zM510.35 624.40h2.7l-0.6 2.3l0.6 2.3h-2.7l0.6 -2.3zM517.85 634.70h2.7l-0.6 2.3l0.6 2.3h-2.7l0.6 -2.3zM525.65 628.50h2.7l-0.6 2.3l0.6 2.3h-2.7l0.6 -2.3zM533.35 634.00h2.7l-0.6 2.3l0.6 2.3h-2.7l0.6 -2.3zM540.85 634.40h2.7l-0.6 2.3l0.6 2.3h-2.7l0.6 -2.3zM548.35 622.40h2.7l-0.6 2.3l0.6 2.3h-2.7l0.6 -2.3zM555.85 619.40h2.7l-0.6 2.3l0.6 2.3h-2.7l0.6 -2.3z" fill="#111" stroke="#111" stroke-width="0.5"/>
<path d="M33.30 76.93L33.80 76.57L34.30 76.22L34.80 75.87L35.30 75.52L35.80 75.17L36.30 74.83L36.80 74.48L37.30 74.14L37.80 73.80L38.30 73.47L38.80 73.13L39.30 72.80L39.80 72.47L40.30 72.14L40.80 71.82L41.30 71.49L41.80 71.17L42.30 70.86L42.80 70.54L43.30 70.23L43.80 69.92L44.30 69.61L44.80 69.30L45.30 69.00L45.80 68.70L46.30 68.40L46.80 68.10L47.30 67.81L47.80 67.52L48.30 67.24L48.80 66.95L49.30 66.67L49.80 66.39L50.30 66.12L50.80 65.84L51.30 65.57L51.80 65.31L52.30 65.05L52.80 64.79L53.30 64.53L53.80 64.27L54.30 64.02L54.80 63.78L55.30 63.53L55.80 63.29L56.30 63.05L56.80 62.82L57.30 62.59L57.80 62.36L58.30 62.14L58.80 61.92L59.30 61.70L59.80 61.49L60.30 61.28L60.80 61.07L61.30 60.87L61.80 60.67L62.30 60.48L62.80 60.28L63.30 60.10L63.80 59.91L64.30 59.73L64.80 59.56L65.30 59.39L65.80 59.22L66.30 59.05L66.80 58.89L67.30 58.74L67.80 58.59L68.30 58.44L68.80 58.30L69.30 58.16L69.80 58.02L70.30 57.89L70.80 57.76L71.30 57.64L71.80 57.52L72.30 57.41L72.80 57.30L73.30 57.20L73.80 57.10L74.30 57.00L74.80 56.91L75.30 56.82L75.80 56.74L76.30 56.66L76.80 56.59L77.30 56.52L77.80 56.46L78.30 56.40L78.80 56.35L79.30 56.30L79.80 56.26L80.30 56.22L80.80 56.19L81.30 56.16L81.80 56.13L82.30 56.11L82.80 56.10L83.30 56.09L83.80 56.08L84.30 56.08L84.80 56.08L85.30 56.09L85.80 56.11L86.30 56.12L86.80 56.14L87.30 56.17L87.80 56.20L88.30 56.23L88.80 56.27L89.30 56.31L89.80 56.36L90.30 56.41L90.80 56.46L91.30 56.52L91.80 56.58L92.30 56.65L92.80 56.72L93.30 56.79L93.80 56.86L94.30 56.94L94.80 57.03L95.30 57.11L95.80 57.20L96.30 57.30L96.80 57.40L97.30 57.50L97.80 57.60L98.30 57.71L98.80 57.82L99.30 57.93L99.80 58.04L100.30 58.16L100.80 58.29L101.30 58.41L101.80 58.54L102.30 58.67L102.80 58.80L103.30 58.94L103.80 59.07L104.30 59.22L104.80 59.36L105.30 59.51L105.80 59.65L106.30 59.80L106.80 59.96L107.30 60.11L107.80 60.27L108.30 60.43L108.80 60.59L109.30 60.76L109.80 60.92L110.30 61.09L110.80 61.26L111.30 61.43L111.80 61.61L112.30 61.78L112.80 61.96L113.30 62.14L113.80 62.32L114.30 62.50L114.80 62.69L115.30 62.87L115.80 63.06L116.30 63.25L116.80 63.44L117.30 63.63L117.80 63.82L118.30 64.01L118.80 64.21L119.30 64.40L119.80 64.60L120.30 64.80L120.80 65.00L121.30 65.20L121.80 65.40L122.30 65.60L122.80 65.80L123.30 66.00L123.80 66.21L124.30 66.41L124.80 66.62L125.30 66.83L125.80 67.04L126.30 67.24L126.80 67.45L127.30 67.67L127.80 67.88L128.30 68.09L128.80 68.30L129.30 68.52L129.80 68.73L130.30 68.95L130.80 69.17L131.30 69.39L131.80 69.60L132.30 69.82L132.80 70.05L133.30 70.27L133.80 70.49L134.30 70.71L134.80 70.94L135.30 71.16L135.80 71.39L136.30 71.61L136.80 71.84L137.30 72.07L137.80 72.30L138.30 72.53L138.80 72.76L139.30 72.99L139.80 73.22L140.30 73.45L140.80 73.69L141.30 73.92L141.80 74.16L142.30 74.39L142.80 74.63L143.30 74.87L143.80 75.11L144.30 75.34L144.80 75.58L145.30 75.82L145.80 76.07L146.30 76.31L146.80 76.55L147.30 76.79L147.80 77.04L148.30 77.28L148.80 77.53L149.30 77.77L149.80 78.02L150.30 78.27L150.80 78.51L151.30 78.76L151.80 79.01L152.30 79.26L152.80 79.51L153.30 79.76L153.80 80.02L154.30 80.27L154.80 80.52L155.30 80.77L155.80 81.03L156.30 81.28L156.80 81.54L157.30 81.79L157.80 82.05L158.30 82.31L158.80 82.57L159.30 82.82L159.80 83.08L160.30 83.34L160.80 83.60L161.30 83.86L161.80 84.12L162.30 84.39L162.80 84.65L163.30 84.91L163.80 85.17L164.30 85.44L164.80 85.70L165.30 85.97L165.80 86.23L166.30 86.50L166.80 86.76L167.30 87.03L167.80 87.30L168.30 87.56L168.80 87.83L169.30 88.10L169.80 88.37L170.30 88.64L170.80 88.91L171.30 89.18L171.80 89.45L172.30 89.72L172.80 89.99L173.30 90.26L173.80 90.54L174.30 90.81L174.80 91.08L175.30 91.35L175.80 91.63L176.30 91.90L176.80 92.18L177.30 92.45L177.80 92.73L178.30 93.00L178.80 93.28L179.30 93.56L179.80 93.83L180.30 94.11L180.80 94.39L181.30 94.67L181.80 94.94L182.30 95.22L182.80 95.50L183.30 95.78L183.80 96.06L184.30 96.34L184.80 96.62L185.30 96.90L185.80 97.18L186.30 97.46L186.80 97.74L187.30 98.02L187.80 98.30L188.30 98.59L188.80 98.87L189.30 99.15L189.80 99.43L190.30 99.72L190.80 100.00L191.30 100.28L191.80 100.57L192.30 100.85L192.80 101.13L193.30 101.42L193.80 101.70L194.30 101.99L194.80 102.27L195.30 102.56L195.80 102.84L196.30 103.13L196.80 103.41L197.30 103.70L197.80 103.98L198.30 104.27L198.80 104.55L199.30 104.84L199.80 105.13L200.30 105.41L200.80 105.70L201.30 105.98L201.80 106.27L202.30 106.56L202.80 106.84L203.30 107.13L203.80 107.42L204.30 107.70L204.80 107.99L205.30 108.28L205.80 108.57L206.30 108.85L206.80 109.14L207.30 109.43L207.80 109.72L208.30 110.00L208.80 110.29L209.30 110.58L209.80 110.87L210.30 111.15L210.80 111.44L211.30 111.73L211.80 112.02L212.30 112.30L212.80 112.59L213.30 112.88L213.80 113.16L214.30 113.45L214.80 113.74L215.30 114.03L215.80 114.31L216.30 114.60L216.80 114.89L217.30 115.18L217.80 115.46L218.30 115.75L218.80 116.04L219.30 116.32L219.80 116.61L220.30 116.90L220.80 117.18L221.30 117.47L221.80 117.76L222.30 118.04L222.80 118.33L223.30 118.61L223.80 118.90L224.30 119.18L224.80 119.47L225.30 119.76L225.80 120.04L226.30 120.33L226.80 120.61L227.30 120.90L227.80 121.18L228.30 121.46L228.80 121.75L229.30 122.03L229.80 122.32L230.30 122.60L230.80 122.88L231.30 123.17L231.80 123.45L232.30 123.73L232.80 124.01L233.30 124.30L233.80 124.58L234.30 124.86L234.80 125.14L235.30 125.42L235.80 125.70L236.30 125.98L236.80 126.26L237.30 126.54L237.80 126.82L238.30 127.10L238.80 127.38L239.30 127.66L239.80 127.94L240.30 128.22L240.80 128.50L241.30 128.77L241.80 129.05L242.30 129.33L242.80 129.60L243.30 129.88L243.80 130.16L244.30 130.43L244.80 130.71L245.30 130.98L245.80 131.26L246.30 131.53L246.80 131.80L247.30 132.08L247.80 132.35L248.30 132.62L248.80 132.89L249.30 133.17L249.80 133.44L250.30 133.71L250.80 133.98L251.30 134.25L251.80 134.52L252.30 134.79L252.80 135.05L253.30 135.32L253.80 135.59L254.30 135.86L254.80 136.12L255.30 136.39L255.80 136.66L256.30 136.92L256.80 137.19L257.30 137.45L257.80 137.71L258.30 137.98L258.80 138.24L259.30 138.50L259.80 138.76L260.30 139.03L260.80 139.29L261.30 139.55L261.80 139.81L262.30 140.06L262.80 140.32L263.30 140.58L263.80 140.84L264.30 141.09L264.80 141.35L265.30 141.61L265.80 141.86L266.30 142.12L266.80 142.37L267.30 142.62L267.80 142.87L268.30 143.13L268.80 143.38L269.30 143.63L269.80 143.88L270.30 144.13L270.80 144.38L271.30 144.62L271.80 144.87L272.30 145.12L272.80 145.37L273.30 145.61L273.80 145.86L274.30 146.10L274.80 146.34L275.30 146.59L275.80 146.83L276.30 147.07L276.80 147.31L277.30 147.55L277.80 147.79L278.30 148.03L278.80 148.26L279.30 148.50L279.80 148.74L280.30 148.97L280.80 149.21L281.30 149.44L281.80 149.67L282.30 149.91L282.80 150.14L283.30 150.37L283.80 150.60L284.30 150.83L284.80 151.06L285.30 151.28L285.80 151.51L286.30 151.74L286.80 151.96L287.30 152.19L287.80 152.41" fill="none" stroke="#4276c8" stroke-width="1.05" stroke-dasharray="3.3 1.6 0.8 1.3"/>
<path d="M33.30 76.69L33.80 76.29L34.30 75.90L34.80 75.50L35.30 75.11L35.80 74.72L36.30 74.34L36.80 73.95L37.30 73.57L37.80 73.19L38.30 72.81L38.80 72.43L39.30 72.06L39.80 71.69L40.30 71.32L40.80 70.95L41.30 70.59L41.80 70.23L42.30 69.87L42.80 69.52L43.30 69.17L43.80 68.82L44.30 68.47L44.80 68.13L45.30 67.79L45.80 67.46L46.30 67.13L46.80 66.80L47.30 66.47L47.80 66.15L48.30 65.84L48.80 65.52L49.30 65.21L49.80 64.91L50.30 64.61L50.80 64.31L51.30 64.02L51.80 63.73L52.30 63.44L52.80 63.16L53.30 62.89L53.80 62.61L54.30 62.35L54.80 62.08L55.30 61.83L55.80 61.57L56.30 61.33L56.80 61.08L57.30 60.84L57.80 60.61L58.30 60.38L58.80 60.16L59.30 59.94L59.80 59.73L60.30 59.52L60.80 59.32L61.30 59.12L61.80 58.93L62.30 58.74L62.80 58.56L63.30 58.39L63.80 58.22L64.30 58.06L64.80 57.90L65.30 57.75L65.80 57.60L66.30 57.46L66.80 57.33L67.30 57.20L67.80 57.08L68.30 56.97L68.80 56.86L69.30 56.76L69.80 56.66L70.30 56.57L70.80 56.49L71.30 56.41L71.80 56.33L72.30 56.27L72.80 56.21L73.30 56.15L73.80 56.10L74.30 56.06L74.80 56.03L75.30 56.00L75.80 55.97L76.30 55.95L76.80 55.94L77.30 55.94L77.80 55.94L78.30 55.94L78.80 55.95L79.30 55.97L79.80 56.00L80.30 56.03L80.80 56.06L81.30 56.11L81.80 56.16L82.30 56.21L82.80 56.27L83.30 56.34L83.80 56.41L84.30 56.49L84.80 56.58L85.30 56.67L85.80 56.77L86.30 56.87L86.80 56.98L87.30 57.09L87.80 57.21L88.30 57.34L88.80 57.47L89.30 57.61L89.80 57.76L90.30 57.90L90.80 58.06L91.30 58.22L91.80 58.38L92.30 58.55L92.80 58.73L93.30 58.91L93.80 59.09L94.30 59.28L94.80 59.48L95.30 59.67L95.80 59.88L96.30 60.09L96.80 60.30L97.30 60.52L97.80 60.74L98.30 60.96L98.80 61.19L99.30 61.43L99.80 61.66L100.30 61.91L100.80 62.15L101.30 62.40L101.80 62.66L102.30 62.91L102.80 63.17L103.30 63.44L103.80 63.71L104.30 63.98L104.80 64.25L105.30 64.53L105.80 64.81L106.30 65.09L106.80 65.38L107.30 65.67L107.80 65.96L108.30 66.26L108.80 66.56L109.30 66.86L109.80 67.16L110.30 67.47L110.80 67.78L111.30 68.09L111.80 68.40L112.30 68.72L112.80 69.04L113.30 69.36L113.80 69.68L114.30 70.00L114.80 70.33L115.30 70.65L115.80 70.98L116.30 71.31L116.80 71.65L117.30 71.98L117.80 72.32L118.30 72.65L118.80 72.99L119.30 73.33L119.80 73.67L120.30 74.01L120.80 74.36L121.30 74.70L121.80 75.04L122.30 75.39L122.80 75.74L123.30 76.08L123.80 76.43L124.30 76.78L124.80 77.13L125.30 77.48L125.80 77.83L126.30 78.18L126.80 78.53L127.30 78.88L127.80 79.23L128.30 79.59L128.80 79.94L129.30 80.29L129.80 80.65L130.30 81.00L130.80 81.36L131.30 81.72L131.80 82.07L132.30 82.43L132.80 82.79L133.30 83.15L133.80 83.51L134.30 83.87L134.80 84.23L135.30 84.59L135.80 84.95L136.30 85.31L136.80 85.67L137.30 86.04L137.80 86.40L138.30 86.76L138.80 87.13L139.30 87.49L139.80 87.85L140.30 88.22L140.80 88.59L141.30 88.95L141.80 89.32L142.30 89.68L142.80 90.05L143.30 90.42L143.80 90.78L144.30 91.15L144.80 91.52L145.30 91.89L145.80 92.26L146.30 92.63L146.80 92.99L147.30 93.36L147.80 93.73L148.30 94.10L148.80 94.47L149.30 94.84L149.80 95.21L150.30 95.58L150.80 95.96L151.30 96.33L151.80 96.70L152.30 97.07L152.80 97.44L153.30 97.81L153.80 98.18L154.30 98.56L154.80 98.93L155.30 99.30L155.80 99.67L156.30 100.05L156.80 100.42L157.30 100.79L157.80 101.16L158.30 101.54L158.80 101.91L159.30 102.28L159.80 102.66L160.30 103.03L160.80 103.40L161.30 103.78L161.80 104.15L162.30 104.52L162.80 104.90L163.30 105.27L163.80 105.64L164.30 106.02L164.80 106.39L165.30 106.76L165.80 107.14L166.30 107.51L166.80 107.89L167.30 108.26L167.80 108.63L168.30 109.01L168.80 109.38L169.30 109.76L169.80 110.13L170.30 110.50L170.80 110.88L171.30 111.25L171.80 111.63L172.30 112.00L172.80 112.38L173.30 112.75L173.80 113.12L174.30 113.50L174.80 113.87L175.30 114.25L175.80 114.62L176.30 114.99L176.80 115.37L177.30 115.74L177.80 116.12L178.30 116.49L178.80 116.86L179.30 117.24L179.80 117.61L180.30 117.98L180.80 118.36L181.30 118.73L181.80 119.11L182.30 119.48L182.80 119.85L183.30 120.22L183.80 120.60L184.30 120.97L184.80 121.34L185.30 121.72L185.80 122.09L186.30 122.46L186.80 122.83L187.30 123.21L187.80 123.58L188.30 123.95L188.80 124.32L189.30 124.70L189.80 125.07L190.30 125.44L190.80 125.81L191.30 126.18L191.80 126.55L192.30 126.93L192.80 127.30L193.30 127.67L193.80 128.04L194.30 128.41L194.80 128.78L195.30 129.15L195.80 129.52L196.30 129.89L196.80 130.26L197.30 130.63L197.80 131.00L198.30 131.37L198.80 131.74L199.30 132.11L199.80 132.47L200.30 132.84L200.80 133.21L201.30 133.58L201.80 133.95L202.30 134.31L202.80 134.68L203.30 135.05L203.80 135.42L204.30 135.78L204.80 136.15L205.30 136.51L205.80 136.88L206.30 137.25L206.80 137.61L207.30 137.98L207.80 138.34L208.30 138.71L208.80 139.07L209.30 139.44L209.80 139.80L210.30 140.16L210.80 140.53L211.30 140.89L211.80 141.25L212.30 141.62L212.80 141.98L213.30 142.34L213.80 142.70L214.30 143.06L214.80 143.42L215.30 143.79L215.80 144.15L216.30 144.51L216.80 144.87L217.30 145.23L217.80 145.59L218.30 145.94L218.80 146.30L219.30 146.66L219.80 147.02L220.30 147.38L220.80 147.73L221.30 148.09L221.80 148.45L222.30 148.80L222.80 149.16L223.30 149.52L223.80 149.87L224.30 150.22L224.80 150.58L225.30 150.93L225.80 151.29L226.30 151.64L226.80 151.99L227.30 152.35L227.80 152.70L228.30 153.05L228.80 153.40L229.30 153.75L229.80 154.10L230.30 154.45L230.80 154.80L231.30 155.15L231.80 155.50L232.30 155.85L232.80 156.20L233.30 156.54L233.80 156.89L234.30 157.24L234.80 157.58L235.30 157.93L235.80 158.28L236.30 158.62L236.80 158.96L237.30 159.31L237.80 159.65L238.30 160.00L238.80 160.34L239.30 160.68L239.80 161.02L240.30 161.36L240.80 161.70L241.30 162.04L241.80 162.38L242.30 162.72L242.80 163.06L243.30 163.40L243.80 163.74L244.30 164.07L244.80 164.41L245.30 164.75L245.80 165.08L246.30 165.42L246.80 165.75L247.30 166.09L247.80 166.42L248.30 166.75L248.80 167.09L249.30 167.42L249.80 167.75L250.30 168.08L250.80 168.41L251.30 168.74L251.80 169.07L252.30 169.40L252.80 169.73L253.30 170.05L253.80 170.38L254.30 170.71L254.80 171.03L255.30 171.36L255.80 171.68L256.30 172.00L256.80 172.33L257.30 172.65L257.80 172.97L258.30 173.29L258.80 173.62L259.30 173.94L259.80 174.26L260.30 174.57L260.80 174.89L261.30 175.21L261.80 175.53L262.30 175.84L262.80 176.16L263.30 176.48L263.80 176.79L264.30 177.10L264.80 177.42L265.30 177.73L265.80 178.04L266.30 178.35L266.80 178.66L267.30 178.97L267.80 179.28L268.30 179.59L268.80 179.90L269.30 180.21L269.80 180.51L270.30 180.82L270.80 181.13L271.30 181.43L271.80 181.73L272.30 182.04L272.80 182.34L273.30 182.64L273.80 182.94L274.30 183.24L274.80 183.54L275.30 183.84L275.80 184.14L276.30 184.44L276.80 184.73L277.30 185.03L277.80 185.32L278.30 185.62L278.80 185.91L279.30 186.20L279.80 186.50L280.30 186.79L280.80 187.08L281.30 187.37L281.80 187.66L282.30 187.95L282.80 188.23L283.30 188.52L283.80 188.81L284.30 189.09L284.80 189.38L285.30 189.66L285.80 189.94L286.30 190.22L286.80 190.50L287.30 190.78L287.80 191.06" fill="none" stroke="#d8633a" stroke-width="1.05" stroke-dasharray="3.5 2.7"/>
<path d="M33.50 437.86L34.00 437.58L34.50 437.29L35.00 436.99L35.50 436.67L36.00 436.34L36.50 435.99L37.00 435.64L37.50 435.27L38.00 434.90L38.50 434.51L39.00 434.11L39.50 433.71L40.00 433.29L40.50 432.87L41.00 432.45L41.50 432.01L42.00 431.57L42.50 431.13L43.00 430.68L43.50 430.23L44.00 429.78L44.50 429.32L45.00 428.87L45.50 428.41L46.00 427.95L46.50 427.49L47.00 427.03L47.50 426.58L48.00 426.13L48.50 425.68L49.00 425.23L49.50 424.79L50.00 424.35L50.50 423.92L51.00 423.49L51.50 423.08L52.00 422.67L52.50 422.26L53.00 421.87L53.50 421.49L54.00 421.11L54.50 420.75L55.00 420.40L55.50 420.06L56.00 419.73L56.50 419.42L57.00 419.12L57.50 418.83L58.00 418.56L58.50 418.30L59.00 418.06L59.50 417.83L60.00 417.61L60.50 417.41L61.00 417.23L61.50 417.06L62.00 416.91L62.50 416.77L63.00 416.65L63.50 416.54L64.00 416.45L64.50 416.38L65.00 416.32L65.50 416.28L66.00 416.25L66.50 416.24L67.00 416.24L67.50 416.26L68.00 416.29L68.50 416.34L69.00 416.40L69.50 416.47L70.00 416.55L70.50 416.64L71.00 416.75L71.50 416.87L72.00 417.00L72.50 417.13L73.00 417.28L73.50 417.44L74.00 417.61L74.50 417.78L75.00 417.97L75.50 418.16L76.00 418.36L76.50 418.57L77.00 418.78L77.50 419.01L78.00 419.24L78.50 419.47L79.00 419.71L79.50 419.96L80.00 420.22L80.50 420.48L81.00 420.75L81.50 421.03L82.00 421.31L82.50 421.60L83.00 421.90L83.50 422.20L84.00 422.51L84.50 422.83L85.00 423.15L85.50 423.47L86.00 423.81L86.50 424.14L87.00 424.49L87.50 424.84L88.00 425.19L88.50 425.56L89.00 425.92L89.50 426.29L90.00 426.67L90.50 427.05L91.00 427.44L91.50 427.83L92.00 428.23L92.50 428.64L93.00 429.04L93.50 429.46L94.00 429.87L94.50 430.30L95.00 430.72L95.50 431.15L96.00 431.59L96.50 432.03L97.00 432.47L97.50 432.92L98.00 433.38L98.50 433.83L99.00 434.29L99.50 434.76L100.00 435.23L100.50 435.70L101.00 436.18L101.50 436.66L102.00 437.14L102.50 437.63L103.00 438.12L103.50 438.61L104.00 439.11L104.50 439.61L105.00 440.11L105.50 440.62L106.00 441.13L106.50 441.64L107.00 442.16L107.50 442.68L108.00 443.20L108.50 443.72L109.00 444.25L109.50 444.77L110.00 445.31L110.50 445.84L111.00 446.37L111.50 446.91L112.00 447.45L112.50 447.99L113.00 448.54L113.50 449.08L114.00 449.63L114.50 450.18L115.00 450.73L115.50 451.29L116.00 451.84L116.50 452.40L117.00 452.95L117.50 453.51L118.00 454.07L118.50 454.63L119.00 455.20L119.50 455.76L120.00 456.32L120.50 456.89L121.00 457.45L121.50 458.02L122.00 458.59L122.50 459.15L123.00 459.72L123.50 460.29L124.00 460.86L124.50 461.43L125.00 462.00L125.50 462.57L126.00 463.14L126.50 463.71L127.00 464.28L127.50 464.85L128.00 465.42L128.50 465.99L129.00 466.56L129.50 467.13L130.00 467.70L130.50 468.26L131.00 468.83L131.50 469.40L132.00 469.96L132.50 470.53L133.00 471.10L133.50 471.66L134.00 472.22L134.50 472.79L135.00 473.35L135.50 473.92L136.00 474.48L136.50 475.04L137.00 475.60L137.50 476.17L138.00 476.73L138.50 477.29L139.00 477.85L139.50 478.41L140.00 478.97L140.50 479.53L141.00 480.09L141.50 480.64L142.00 481.20L142.50 481.76L143.00 482.32L143.50 482.87L144.00 483.43L144.50 483.98L145.00 484.54L145.50 485.09L146.00 485.65L146.50 486.20L147.00 486.75L147.50 487.31L148.00 487.86L148.50 488.41L149.00 488.96L149.50 489.51L150.00 490.06L150.50 490.61L151.00 491.16L151.50 491.71L152.00 492.26L152.50 492.81L153.00 493.36L153.50 493.90L154.00 494.45L154.50 495.00L155.00 495.54L155.50 496.09L156.00 496.63L156.50 497.18L157.00 497.72L157.50 498.27L158.00 498.81L158.50 499.35L159.00 499.89L159.50 500.44L160.00 500.98L160.50 501.52L161.00 502.06L161.50 502.60L162.00 503.14L162.50 503.68L163.00 504.21L163.50 504.75L164.00 505.29L164.50 505.83L165.00 506.36L165.50 506.90L166.00 507.43L166.50 507.97L167.00 508.50L167.50 509.04L168.00 509.57L168.50 510.10L169.00 510.64L169.50 511.17L170.00 511.70L170.50 512.23L171.00 512.76L171.50 513.29L172.00 513.82L172.50 514.35L173.00 514.88L173.50 515.41L174.00 515.93L174.50 516.46L175.00 516.99L175.50 517.51L176.00 518.04L176.50 518.56L177.00 519.09L177.50 519.61L178.00 520.14L178.50 520.66L179.00 521.18L179.50 521.70L180.00 522.23L180.50 522.75L181.00 523.27L181.50 523.79L182.00 524.31L182.50 524.83L183.00 525.34L183.50 525.86L184.00 526.38L184.50 526.90L185.00 527.41L185.50 527.93L186.00 528.44L186.50 528.96L187.00 529.47L187.50 529.99L188.00 530.50L188.50 531.01L189.00 531.52L189.50 532.04L190.00 532.55L190.50 533.06L191.00 533.57L191.50 534.08L192.00 534.59L192.50 535.10L193.00 535.60L193.50 536.11L194.00 536.62L194.50 537.12L195.00 537.63L195.50 538.14L196.00 538.64L196.50 539.15L197.00 539.65L197.50 540.15L198.00 540.65L198.50 541.16L199.00 541.66L199.50 542.16L200.00 542.66L200.50 543.16L201.00 543.66L201.50 544.16L202.00 544.66L202.50 545.15L203.00 545.65L203.50 546.15L204.00 546.64L204.50 547.14L205.00 547.64L205.50 548.13L206.00 548.62L206.50 549.12L207.00 549.61L207.50 550.10L208.00 550.59L208.50 551.09L209.00 551.58L209.50 552.07L210.00 552.56L210.50 553.04L211.00 553.53L211.50 554.02L212.00 554.51L212.50 554.99L213.00 555.48L213.50 555.97L214.00 556.45L214.50 556.94L215.00 557.42L215.50 557.90L216.00 558.39L216.50 558.87L217.00 559.35L217.50 559.83L218.00 560.31L218.50 560.79L219.00 561.27L219.50 561.75L220.00 562.23L220.50 562.70L221.00 563.18L221.50 563.66L222.00 564.13L222.50 564.61L223.00 565.08L223.50 565.56L224.00 566.03L224.50 566.50L225.00 566.98L225.50 567.45L226.00 567.92L226.50 568.39L227.00 568.86L227.50 569.33L228.00 569.80L228.50 570.27L229.00 570.73L229.50 571.20L230.00 571.67L230.50 572.13L231.00 572.60L231.50 573.06L232.00 573.53L232.50 573.99L233.00 574.45L233.50 574.92L234.00 575.38L234.50 575.84L235.00 576.30L235.50 576.76L236.00 577.22L236.50 577.68L237.00 578.14L237.50 578.59L238.00 579.05L238.50 579.51L239.00 579.96L239.50 580.42L240.00 580.87L240.50 581.33L241.00 581.78L241.50 582.23L242.00 582.68L242.50 583.14L243.00 583.59L243.50 584.04L244.00 584.49L244.50 584.94L245.00 585.38L245.50 585.83L246.00 586.28L246.50 586.73L247.00 587.17L247.50 587.62L248.00 588.06L248.50 588.50L249.00 588.95L249.50 589.39L250.00 589.83L250.50 590.27L251.00 590.72L251.50 591.16L252.00 591.60L252.50 592.03L253.00 592.47L253.50 592.91L254.00 593.35L254.50 593.78L255.00 594.22L255.50 594.66L256.00 595.09L256.50 595.52L257.00 595.96L257.50 596.39L258.00 596.82L258.50 597.25L259.00 597.68L259.50 598.11L260.00 598.54L260.50 598.97L261.00 599.40L261.50 599.83L262.00 600.25L262.50 600.68L263.00 601.11L263.50 601.53L264.00 601.96L264.50 602.38L265.00 602.80L265.50 603.22L266.00 603.65L266.50 604.07L267.00 604.49L267.50 604.91L268.00 605.33L268.50 605.75L269.00 606.16L269.50 606.58L270.00 607.00L270.50 607.41L271.00 607.83L271.50 608.24L272.00 608.66L272.50 609.07L273.00 609.48L273.50 609.89L274.00 610.30L274.50 610.71L275.00 611.12L275.50 611.53L276.00 611.94L276.50 612.35L277.00 612.76L277.50 613.16L278.00 613.57L278.50 613.97L279.00 614.38L279.50 614.78L280.00 615.19L280.50 615.59L281.00 615.99L281.50 616.39L282.00 616.79L282.50 617.19L283.00 617.59L283.50 617.99L284.00 618.39L284.50 618.78L285.00 619.18L285.50 619.57L286.00 619.97L286.50 620.36L287.00 620.76L287.50 621.15L288.00 621.54" fill="none" stroke="#4276c8" stroke-width="1.05" stroke-dasharray="3.3 1.6 0.8 1.3"/>
<path d="M33.50 437.46L34.00 437.32L34.50 437.16L35.00 436.99L35.50 436.80L36.00 436.60L36.50 436.38L37.00 436.15L37.50 435.91L38.00 435.65L38.50 435.38L39.00 435.10L39.50 434.81L40.00 434.51L40.50 434.20L41.00 433.88L41.50 433.55L42.00 433.21L42.50 432.86L43.00 432.51L43.50 432.14L44.00 431.78L44.50 431.40L45.00 431.02L45.50 430.63L46.00 430.24L46.50 429.85L47.00 429.45L47.50 429.05L48.00 428.64L48.50 428.24L49.00 427.83L49.50 427.42L50.00 427.01L50.50 426.60L51.00 426.19L51.50 425.78L52.00 425.37L52.50 424.97L53.00 424.56L53.50 424.16L54.00 423.77L54.50 423.37L55.00 422.99L55.50 422.60L56.00 422.22L56.50 421.85L57.00 421.48L57.50 421.12L58.00 420.77L58.50 420.43L59.00 420.09L59.50 419.76L60.00 419.45L60.50 419.14L61.00 418.84L61.50 418.56L62.00 418.28L62.50 418.02L63.00 417.77L63.50 417.53L64.00 417.30L64.50 417.09L65.00 416.90L65.50 416.71L66.00 416.54L66.50 416.39L67.00 416.24L67.50 416.11L68.00 415.99L68.50 415.88L69.00 415.79L69.50 415.71L70.00 415.64L70.50 415.58L71.00 415.53L71.50 415.49L72.00 415.47L72.50 415.45L73.00 415.45L73.50 415.45L74.00 415.47L74.50 415.49L75.00 415.53L75.50 415.57L76.00 415.63L76.50 415.69L77.00 415.76L77.50 415.84L78.00 415.93L78.50 416.03L79.00 416.14L79.50 416.25L80.00 416.37L80.50 416.50L81.00 416.64L81.50 416.78L82.00 416.93L82.50 417.09L83.00 417.25L83.50 417.42L84.00 417.60L84.50 417.78L85.00 417.97L85.50 418.16L86.00 418.36L86.50 418.57L87.00 418.78L87.50 418.99L88.00 419.21L88.50 419.44L89.00 419.67L89.50 419.90L90.00 420.15L90.50 420.39L91.00 420.64L91.50 420.90L92.00 421.16L92.50 421.42L93.00 421.69L93.50 421.97L94.00 422.25L94.50 422.53L95.00 422.82L95.50 423.11L96.00 423.41L96.50 423.71L97.00 424.01L97.50 424.32L98.00 424.63L98.50 424.95L99.00 425.27L99.50 425.60L100.00 425.93L100.50 426.26L101.00 426.60L101.50 426.94L102.00 427.28L102.50 427.63L103.00 427.98L103.50 428.33L104.00 428.69L104.50 429.05L105.00 429.41L105.50 429.78L106.00 430.15L106.50 430.52L107.00 430.90L107.50 431.28L108.00 431.66L108.50 432.05L109.00 432.44L109.50 432.83L110.00 433.22L110.50 433.62L111.00 434.01L111.50 434.41L112.00 434.82L112.50 435.22L113.00 435.63L113.50 436.04L114.00 436.45L114.50 436.87L115.00 437.28L115.50 437.70L116.00 438.12L116.50 438.55L117.00 438.97L117.50 439.40L118.00 439.82L118.50 440.25L119.00 440.68L119.50 441.12L120.00 441.55L120.50 441.99L121.00 442.42L121.50 442.86L122.00 443.30L122.50 443.74L123.00 444.18L123.50 444.62L124.00 445.07L124.50 445.51L125.00 445.96L125.50 446.40L126.00 446.85L126.50 447.30L127.00 447.75L127.50 448.19L128.00 448.64L128.50 449.09L129.00 449.54L129.50 449.99L130.00 450.45L130.50 450.90L131.00 451.35L131.50 451.80L132.00 452.25L132.50 452.69L133.00 453.14L133.50 453.58L134.00 454.02L134.50 454.46L135.00 454.89L135.50 455.32L136.00 455.74L136.50 456.16L137.00 456.57L137.50 456.98L138.00 457.38L138.50 457.78L139.00 458.18L139.50 458.57L140.00 458.96L140.50 459.35L141.00 459.74L141.50 460.13L142.00 460.52L142.50 460.91L143.00 461.30L143.50 461.70L144.00 462.10L144.50 462.50L145.00 462.91L145.50 463.32L146.00 463.74L146.50 464.17L147.00 464.61L147.50 465.05L148.00 465.50L148.50 465.95L149.00 466.41L149.50 466.88L150.00 467.34L150.50 467.81L151.00 468.28L151.50 468.76L152.00 469.23L152.50 469.70L153.00 470.17L153.50 470.63L154.00 471.10L154.50 471.56L155.00 472.01L155.50 472.47L156.00 472.92L156.50 473.37L157.00 473.82L157.50 474.26L158.00 474.70L158.50 475.14L159.00 475.57L159.50 476.01L160.00 476.44L160.50 476.87L161.00 477.29L161.50 477.72L162.00 478.14L162.50 478.56L163.00 478.98L163.50 479.39L164.00 479.81L164.50 480.22L165.00 480.63L165.50 481.04L166.00 481.45L166.50 481.85L167.00 482.25L167.50 482.66L168.00 483.06L168.50 483.46L169.00 483.85L169.50 484.25L170.00 484.65L170.50 485.04L171.00 485.43L171.50 485.83L172.00 486.22L172.50 486.61L173.00 487.00L173.50 487.38L174.00 487.77L174.50 488.16L175.00 488.54L175.50 488.93L176.00 489.31L176.50 489.70L177.00 490.08L177.50 490.47L178.00 490.85L178.50 491.23L179.00 491.61L179.50 492.00L180.00 492.38L180.50 492.76L181.00 493.14L181.50 493.53L182.00 493.91L182.50 494.29L183.00 494.68L183.50 495.06L184.00 495.44L184.50 495.83L185.00 496.21L185.50 496.60L186.00 496.98L186.50 497.37L187.00 497.76L187.50 498.14L188.00 498.53L188.50 498.92L189.00 499.31L189.50 499.70L190.00 500.10L190.50 500.49L191.00 500.88L191.50 501.28L192.00 501.68L192.50 502.07L193.00 502.47L193.50 502.87L194.00 503.27L194.50 503.67L195.00 504.08L195.50 504.48L196.00 504.89L196.50 505.29L197.00 505.70L197.50 506.10L198.00 506.51L198.50 506.92L199.00 507.33L199.50 507.74L200.00 508.15L200.50 508.56L201.00 508.98L201.50 509.39L202.00 509.80L202.50 510.22L203.00 510.63L203.50 511.05L204.00 511.47L204.50 511.88L205.00 512.30L205.50 512.72L206.00 513.14L206.50 513.56L207.00 513.98L207.50 514.40L208.00 514.82L208.50 515.24L209.00 515.67L209.50 516.09L210.00 516.51L210.50 516.93L211.00 517.36L211.50 517.78L212.00 518.21L212.50 518.63L213.00 519.06L213.50 519.48L214.00 519.91L214.50 520.33L215.00 520.76L215.50 521.19L216.00 521.61L216.50 522.04L217.00 522.47L217.50 522.90L218.00 523.32L218.50 523.75L219.00 524.18L219.50 524.61L220.00 525.04L220.50 525.46L221.00 525.89L221.50 526.32L222.00 526.75L222.50 527.18L223.00 527.61L223.50 528.03L224.00 528.46L224.50 528.89L225.00 529.32L225.50 529.75L226.00 530.17L226.50 530.60L227.00 531.03L227.50 531.46L228.00 531.88L228.50 532.31L229.00 532.74L229.50 533.16L230.00 533.59L230.50 534.02L231.00 534.44L231.50 534.87L232.00 535.29L232.50 535.72L233.00 536.14L233.50 536.57L234.00 536.99L234.50 537.41L235.00 537.84L235.50 538.26L236.00 538.68L236.50 539.10L237.00 539.52L237.50 539.95L238.00 540.37L238.50 540.78L239.00 541.20L239.50 541.62L240.00 542.04L240.50 542.46L241.00 542.87L241.50 543.29L242.00 543.70L242.50 544.12L243.00 544.53L243.50 544.95L244.00 545.36L244.50 545.77L245.00 546.18L245.50 546.59L246.00 547.00L246.50 547.41L247.00 547.82L247.50 548.22L248.00 548.63L248.50 549.04L249.00 549.44L249.50 549.84L250.00 550.25L250.50 550.65L251.00 551.05L251.50 551.45L252.00 551.85L252.50 552.24L253.00 552.64L253.50 553.04L254.00 553.43L254.50 553.82L255.00 554.22L255.50 554.61L256.00 555.00L256.50 555.38L257.00 555.77L257.50 556.16L258.00 556.54L258.50 556.93L259.00 557.31L259.50 557.69L260.00 558.07L260.50 558.45L261.00 558.83L261.50 559.21L262.00 559.58L262.50 559.95L263.00 560.33L263.50 560.70L264.00 561.07L264.50 561.43L265.00 561.80L265.50 562.17L266.00 562.53L266.50 562.89L267.00 563.25L267.50 563.61L268.00 563.97L268.50 564.33L269.00 564.68L269.50 565.03L270.00 565.38L270.50 565.73L271.00 566.08L271.50 566.43L272.00 566.77L272.50 567.12L273.00 567.46L273.50 567.80L274.00 568.13L274.50 568.47L275.00 568.80L275.50 569.14L276.00 569.47L276.50 569.80L277.00 570.12L277.50 570.45L278.00 570.77L278.50 571.09L279.00 571.41L279.50 571.73L280.00 572.04L280.50 572.36L281.00 572.67L281.50 572.98L282.00 573.28L282.50 573.59L283.00 573.89L283.50 574.19L284.00 574.49L284.50 574.79L285.00 575.09L285.50 575.38L286.00 575.67L286.50 575.96L287.00 576.24L287.50 576.53L288.00 576.81" fill="none" stroke="#d8633a" stroke-width="1.05" stroke-dasharray="3.5 2.7"/>
<path d="M338.20 49.60L339.20 46.00L340.20 44.00L340.88 43.90L340.98 44.60L341.08 45.30L341.18 46.00L341.28 46.70L341.39 47.40L341.49 48.10L341.60 48.80L341.71 49.50L341.82 50.20L341.93 50.90L342.04 51.60L342.15 52.30L342.27 53.00L342.38 53.70L342.50 54.40L342.62 55.10L342.74 55.80L342.86 56.50L342.98 57.20L343.10 57.90L343.22 58.60L343.35 59.30L343.48 60.00L343.61 60.70L343.73 61.40L343.87 62.10L344.00 62.80L344.13 63.50L344.27 64.20L344.40 64.90L344.54 65.60L344.68 66.30L344.82 67.00L344.96 67.70L345.10 68.40L345.24 69.10L345.39 69.80L345.53 70.50L345.68 71.20L345.83 71.90L345.98 72.60L346.13 73.30L346.29 74.00L346.44 74.70L346.60 75.40L346.75 76.10L346.91 76.80L347.07 77.50L347.23 78.20L347.39 78.90L347.56 79.60L347.72 80.30L347.89 81.00L348.06 81.70L348.22 82.40L348.40 83.10L348.57 83.80L348.74 84.50L348.91 85.20L349.09 85.90L349.27 86.60L349.45 87.30L349.63 88.00L349.81 88.70L349.99 89.40L350.17 90.10L350.36 90.80L350.55 91.50L350.73 92.20L350.92 92.90L351.11 93.60L351.31 94.30L351.50 95.00L351.70 95.70L351.89 96.40L352.09 97.10L352.29 97.80L352.49 98.50L352.69 99.20L352.89 99.90L353.10 100.60L353.31 101.30L353.51 102.00L353.72 102.70L353.93 103.40L354.15 104.10L354.36 104.80L354.57 105.50L354.79 106.20L355.01 106.90L355.23 107.60L355.45 108.30L355.67 109.00L355.89 109.70L356.12 110.40L356.34 111.10L356.57 111.80L356.80 112.50L357.03 113.20L357.26 113.90L357.50 114.60L357.73 115.30L357.97 116.00L358.21 116.70L358.45 117.40L358.69 118.10L358.93 118.80L359.17 119.50L359.42 120.20L359.67 120.90L359.91 121.60L360.16 122.30L360.41 123.00L360.67 123.70L360.92 124.40L361.18 125.10L361.43 125.80L361.69 126.50L361.95 127.20L362.21 127.90L362.48 128.60L362.74 129.30L363.01 130.00L363.28 130.70L363.55 131.40L363.82 132.10L364.09 132.80L364.36 133.50L364.64 134.20L364.91 134.90L365.19 135.60L365.47 136.30L365.75 137.00L366.04 137.70L366.32 138.40L366.61 139.10L366.89 139.80L367.18 140.50L367.47 141.20L367.77 141.90L368.06 142.60L368.35 143.30L368.65 144.00L368.95 144.70L369.25 145.40L369.55 146.10L369.85 146.80L370.16 147.50L370.46 148.20L370.77 148.90L371.08 149.60L371.39 150.30L371.70 151.00L372.02 151.70L372.33 152.40L372.65 153.10L372.97 153.80L373.29 154.50L373.61 155.20L373.94 155.90L374.26 156.60L374.59 157.30L374.92 158.00L375.25 158.70L375.58 159.40L375.91 160.10L376.24 160.80L376.58 161.50L376.92 162.20L377.26 162.90L377.60 163.60L377.94 164.30L378.29 165.00L378.63 165.70L378.98 166.40L379.33 167.10L379.68 167.80L380.03 168.50L380.39 169.20L380.74 169.90L381.10 170.60L381.46 171.30L381.82 172.00L382.18 172.70L382.54 173.40L382.91 174.10L383.28 174.80L383.65 175.50L384.02 176.20L384.39 176.90L384.76 177.60L385.14 178.30L385.51 179.00L385.89 179.70L386.27 180.40L386.66 181.10L387.04 181.80L387.43 182.50L387.81 183.20L388.20 183.90L388.59 184.60L388.98 185.30L389.38 186.00L389.77 186.70L390.17 187.40L390.57 188.10L390.97 188.80L391.37 189.50L391.78 190.20L392.18 190.90L392.59 191.60L393.00 192.30L393.41 193.00L393.82 193.70L394.24 194.40L394.65 195.10L395.07 195.80L395.49 196.50L395.91 197.20L396.33 197.90L396.76 198.60L397.18 199.30L397.61 200.00L398.04 200.70L398.47 201.40L398.91 202.10L399.34 202.80L399.78 203.50L400.22 204.20L400.66 204.90L401.10 205.60L401.54 206.30L401.99 207.00L402.44 207.70L402.88 208.40L403.34 209.10L403.79 209.80L404.24 210.50L404.70 211.20L405.16 211.90L405.62 212.60L406.08 213.30L406.54 214.00L407.01 214.70L407.47 215.40L407.94 216.10L408.41 216.80L408.88 217.50L409.36 218.20L409.83 218.90L410.31 219.60L410.79 220.30L411.27 221.00L411.75 221.70L412.24 222.40L412.72 223.10L413.21 223.80L413.70 224.50L414.19 225.20L414.69 225.90L415.18 226.60L415.68 227.30L416.18 228.00L416.68 228.70L417.18 229.40L417.69 230.10L418.19 230.80L418.70 231.50L419.21 232.20L419.72 232.90L420.24 233.60L420.75 234.30L421.27 235.00L421.79 235.70L422.31 236.40L422.83 237.10L423.36 237.80L423.89 238.50L424.41 239.20L424.94 239.90L425.48 240.60L426.01 241.30L426.55 242.00L427.09 242.70L427.62 243.40L428.17 244.10L428.71 244.80L429.26 245.50L429.80 246.20L430.35 246.90L430.90 247.60L431.46 248.30L432.01 249.00L432.57 249.70L433.13 250.40L433.69 251.10L434.25 251.80L434.81 252.50L435.38 253.20L435.95 253.90L436.52 254.60L437.09 255.30L437.66 256.00L438.24 256.70L438.82 257.40L439.40 258.10L439.98 258.80L440.56 259.50L441.15 260.20L441.73 260.90L442.32 261.60L442.91 262.30L443.51 263.00L444.10 263.70L444.70 264.40L445.30 265.10L445.90 265.80L446.50 266.50L447.11 267.20L447.71 267.90L448.32 268.60L448.93 269.30L449.54 270.00L450.16 270.70L450.77 271.40L451.39 272.10L452.01 272.80L452.64 273.50L453.26 274.20L453.89 274.90L454.51 275.60L455.14 276.30L455.78 277.00L456.41 277.70L457.05 278.40L457.68 279.10L458.32 279.80L458.97 280.50L459.61 281.20L460.26 281.90L460.91 282.60L461.56 283.30L462.21 284.00L462.86 284.70L463.52 285.40L464.18 286.10L464.84 286.80L465.50 287.50L466.16 288.20L466.83 288.90L467.50 289.60L468.17 290.30L468.84 291.00L469.51 291.70L470.19 292.40L470.87 293.10L471.55 293.80L472.23 294.50L472.91 295.20L473.60 295.90L474.29 296.60L474.98 297.30L475.67 298.00L476.37 298.70L477.06 299.40L477.76 300.10L478.46 300.80L479.17 301.50L479.87 302.20L480.58 302.90L481.29 303.60L482.00 304.30L482.71 305.00L483.43 305.70L484.14 306.40L484.86 307.10L485.59 307.80L486.31 308.50L487.03 309.20L487.76 309.90L488.49 310.60L489.22 311.30L489.96 312.00L490.69 312.70L491.43 313.40L492.17 314.10L492.91 314.80L493.66 315.50L494.41 316.20L495.15 316.90L495.91 317.60" fill="none" stroke="#4276c8" stroke-width="1.05" stroke-dasharray="3.3 1.6 0.8 1.3"/>
<path d="M338.20 49.60L339.20 46.00L339.90 44.00L339.91 44.00L340.02 44.70L340.14 45.40L340.26 46.10L340.37 46.80L340.49 47.50L340.60 48.20L340.72 48.90L340.84 49.60L340.95 50.30L341.07 51.00L341.18 51.70L341.30 52.40L341.42 53.10L341.53 53.80L341.65 54.50L341.77 55.20L341.88 55.90L342.00 56.60L342.12 57.30L342.23 58.00L342.35 58.70L342.47 59.40L342.59 60.10L342.70 60.80L342.82 61.50L342.94 62.20L343.06 62.90L343.18 63.60L343.30 64.30L343.42 65.00L343.54 65.70L343.66 66.40L343.78 67.10L343.90 67.80L344.02 68.50L344.14 69.20L344.26 69.90L344.38 70.60L344.50 71.30L344.63 72.00L344.75 72.70L344.87 73.40L345.00 74.10L345.12 74.80L345.24 75.50L345.37 76.20L345.49 76.90L345.62 77.60L345.75 78.30L345.87 79.00L346.00 79.70L346.13 80.40L346.26 81.10L346.39 81.80L346.52 82.50L346.65 83.20L346.78 83.90L346.91 84.60L347.04 85.30L347.17 86.00L347.31 86.70L347.44 87.40L347.58 88.10L347.71 88.80L347.85 89.50L347.98 90.20L348.12 90.90L348.26 91.60L348.40 92.30L348.54 93.00L348.68 93.70L348.82 94.40L348.96 95.10L349.10 95.80L349.24 96.50L349.39 97.20L349.53 97.90L349.68 98.60L349.82 99.30L349.97 100.00L350.12 100.70L350.27 101.40L350.42 102.10L350.57 102.80L350.72 103.50L350.87 104.20L351.03 104.90L351.18 105.60L351.34 106.30L351.49 107.00L351.65 107.70L351.81 108.40L351.97 109.10L352.13 109.80L352.29 110.50L352.45 111.20L352.62 111.90L352.78 112.60L352.95 113.30L353.11 114.00L353.28 114.70L353.45 115.40L353.62 116.10L353.79 116.80L353.96 117.50L354.14 118.20L354.31 118.90L354.49 119.60L354.66 120.30L354.84 121.00L355.02 121.70L355.20 122.40L355.38 123.10L355.56 123.80L355.75 124.50L355.93 125.20L356.12 125.90L356.31 126.60L356.50 127.30L356.69 128.00L356.88 128.70L357.07 129.40L357.27 130.10L357.46 130.80L357.66 131.50L357.86 132.20L358.06 132.90L358.26 133.60L358.46 134.30L358.67 135.00L358.87 135.70L359.08 136.40L359.29 137.10L359.50 137.80L359.71 138.50L359.92 139.20L360.14 139.90L360.35 140.60L360.57 141.30L360.79 142.00L361.01 142.70L361.23 143.40L361.46 144.10L361.68 144.80L361.91 145.50L362.14 146.20L362.37 146.90L362.60 147.60L362.83 148.30L363.07 149.00L363.30 149.70L363.54 150.40L363.78 151.10L364.02 151.80L364.27 152.50L364.51 153.20L364.76 153.90L365.01 154.60L365.26 155.30L365.51 156.00L365.77 156.70L366.02 157.40L366.28 158.10L366.54 158.80L366.80 159.50L367.06 160.20L367.33 160.90L367.59 161.60L367.86 162.30L368.13 163.00L368.40 163.70L368.68 164.40L368.95 165.10L369.23 165.80L369.51 166.50L369.79 167.20L370.07 167.90L370.35 168.60L370.64 169.30L370.93 170.00L371.21 170.70L371.51 171.40L371.80 172.10L372.09 172.80L372.39 173.50L372.69 174.20L372.99 174.90L373.29 175.60L373.59 176.30L373.90 177.00L374.20 177.70L374.51 178.40L374.82 179.10L375.13 179.80L375.45 180.50L375.76 181.20L376.08 181.90L376.40 182.60L376.72 183.30L377.04 184.00L377.37 184.70L377.69 185.40L378.02 186.10L378.35 186.80L378.68 187.50L379.01 188.20L379.35 188.90L379.68 189.60L380.02 190.30L380.36 191.00L380.70 191.70L381.05 192.40L381.39 193.10L381.74 193.80L382.09 194.50L382.44 195.20L382.79 195.90L383.14 196.60L383.50 197.30L383.86 198.00L384.22 198.70L384.58 199.40L384.94 200.10L385.30 200.80L385.67 201.50L386.04 202.20L386.41 202.90L386.78 203.60L387.15 204.30L387.53 205.00L387.90 205.70L388.28 206.40L388.66 207.10L389.04 207.80L389.43 208.50L389.81 209.20L390.20 209.90L390.59 210.60L390.98 211.30L391.37 212.00L391.76 212.70L392.16 213.40L392.56 214.10L392.95 214.80L393.36 215.50L393.76 216.20L394.16 216.90L394.57 217.60L394.98 218.30L395.39 219.00L395.80 219.70L396.21 220.40L396.62 221.10L397.04 221.80L397.46 222.50L397.88 223.20L398.30 223.90L398.72 224.60L399.15 225.30L399.57 226.00L400.00 226.70L400.43 227.40L400.87 228.10L401.30 228.80L401.73 229.50L402.17 230.20L402.61 230.90L403.05 231.60L403.49 232.30L403.94 233.00L404.38 233.70L404.83 234.40L405.28 235.10L405.73 235.80L406.18 236.50L406.64 237.20L407.09 237.90L407.55 238.60L408.01 239.30L408.47 240.00L408.93 240.70L409.40 241.40L409.87 242.10L410.33 242.80L410.80 243.50L411.28 244.20L411.75 244.90L412.22 245.60L412.70 246.30L413.18 247.00L413.66 247.70L414.14 248.40L414.62 249.10L415.11 249.80L415.60 250.50L416.09 251.20L416.58 251.90L417.07 252.60L417.56 253.30L418.06 254.00L418.56 254.70L419.05 255.40L419.55 256.10L420.06 256.80L420.56 257.50L421.07 258.20L421.57 258.90L422.08 259.60L422.60 260.30L423.11 261.00L423.62 261.70L424.14 262.40L424.66 263.10L425.18 263.80L425.70 264.50L426.22 265.20L426.75 265.90L427.27 266.60L427.80 267.30L428.33 268.00L428.86 268.70L429.39 269.40L429.93 270.10L430.47 270.80L431.00 271.50L431.54 272.20L432.09 272.90L432.63 273.60L433.17 274.30L433.72 275.00L434.27 275.70L434.82 276.40L435.37 277.10L435.93 277.80L436.48 278.50L437.04 279.20L437.60 279.90L438.16 280.60L438.72 281.30L439.28 282.00L439.85 282.70L440.42 283.40L440.99 284.10L441.56 284.80L442.13 285.50L442.70 286.20L443.28 286.90L443.86 287.60L444.44 288.30L445.02 289.00L445.60 289.70L446.18 290.40L446.77 291.10L447.36 291.80L447.95 292.50L448.54 293.20L449.13 293.90L449.73 294.60L450.32 295.30L450.92 296.00L451.52 296.70L452.12 297.40L452.72 298.10L453.33 298.80L453.93 299.50L454.54 300.20L455.15 300.90L455.76 301.60L456.38 302.30L456.99 303.00L457.61 303.70L458.23 304.40L458.85 305.10L459.47 305.80L460.09 306.50L460.72 307.20L461.34 307.90L461.97 308.60L462.60 309.30L463.23 310.00L463.87 310.70L464.50 311.40L465.14 312.10L465.78 312.80L466.42 313.50L467.06 314.20L467.70 314.90L468.35 315.60L468.99 316.30L469.64 317.00L470.29 317.70" fill="none" stroke="#d8633a" stroke-width="1.05" stroke-dasharray="3.5 2.7"/>
<path d="M325.30 422.30L328.70 414.50L331.30 406.30L333.54 406.30L333.69 407.00L333.83 407.70L333.97 408.40L334.11 409.10L334.26 409.80L334.40 410.50L334.55 411.20L334.69 411.90L334.84 412.60L334.99 413.30L335.14 414.00L335.29 414.70L335.44 415.40L335.59 416.10L335.74 416.80L335.90 417.50L336.05 418.20L336.21 418.90L336.36 419.60L336.52 420.30L336.68 421.00L336.83 421.70L336.99 422.40L337.15 423.10L337.31 423.80L337.48 424.50L337.64 425.20L337.80 425.90L337.97 426.60L338.13 427.30L338.30 428.00L338.47 428.70L338.63 429.40L338.80 430.10L338.97 430.80L339.14 431.50L339.32 432.20L339.49 432.90L339.66 433.60L339.84 434.30L340.01 435.00L340.19 435.70L340.37 436.40L340.54 437.10L340.72 437.80L340.90 438.50L341.09 439.20L341.27 439.90L341.45 440.60L341.64 441.30L341.82 442.00L342.01 442.70L342.19 443.40L342.38 444.10L342.57 444.80L342.76 445.50L342.95 446.20L343.14 446.90L343.34 447.60L343.53 448.30L343.73 449.00L343.92 449.70L344.12 450.40L344.32 451.10L344.52 451.80L344.72 452.50L344.92 453.20L345.12 453.90L345.33 454.60L345.53 455.30L345.74 456.00L345.95 456.70L346.15 457.40L346.36 458.10L346.57 458.80L346.78 459.50L347.00 460.20L347.21 460.90L347.42 461.60L347.64 462.30L347.86 463.00L348.07 463.70L348.29 464.40L348.51 465.10L348.73 465.80L348.96 466.50L349.18 467.20L349.40 467.90L349.63 468.60L349.86 469.30L350.08 470.00L350.31 470.70L350.54 471.40L350.77 472.10L351.01 472.80L351.24 473.50L351.48 474.20L351.71 474.90L351.95 475.60L352.19 476.30L352.43 477.00L352.67 477.70L352.91 478.40L353.15 479.10L353.40 479.80L353.64 480.50L353.89 481.20L354.14 481.90L354.39 482.60L354.64 483.30L354.89 484.00L355.14 484.70L355.40 485.40L355.65 486.10L355.91 486.80L356.17 487.50L356.43 488.20L356.69 488.90L356.95 489.60L357.21 490.30L357.48 491.00L357.74 491.70L358.01 492.40L358.28 493.10L358.55 493.80L358.82 494.50L359.09 495.20L359.36 495.90L359.64 496.60L359.91 497.30L360.19 498.00L360.47 498.70L360.75 499.40L361.03 500.10L361.31 500.80L361.59 501.50L361.88 502.20L362.17 502.90L362.45 503.60L362.74 504.30L363.03 505.00L363.33 505.70L363.62 506.40L363.91 507.10L364.21 507.80L364.51 508.50L364.81 509.20L365.11 509.90L365.41 510.60L365.71 511.30L366.01 512.00L366.32 512.70L366.63 513.40L366.93 514.10L367.24 514.80L367.56 515.50L367.87 516.20L368.18 516.90L368.50 517.60L368.81 518.30L369.13 519.00L369.45 519.70L369.77 520.40L370.10 521.10L370.42 521.80L370.75 522.50L371.07 523.20L371.40 523.90L371.73 524.60L372.06 525.30L372.40 526.00L372.73 526.70L373.07 527.40L373.40 528.10L373.74 528.80L374.08 529.50L374.42 530.20L374.77 530.90L375.11 531.60L375.46 532.30L375.81 533.00L376.16 533.70L376.51 534.40L376.86 535.10L377.21 535.80L377.57 536.50L377.93 537.20L378.28 537.90L378.64 538.60L379.01 539.30L379.37 540.00L379.73 540.70L380.10 541.40L380.47 542.10L380.84 542.80L381.21 543.50L381.58 544.20L381.95 544.90L382.33 545.60L382.71 546.30L383.09 547.00L383.47 547.70L383.85 548.40L384.23 549.10L384.62 549.80L385.00 550.50L385.39 551.20L385.78 551.90L386.18 552.60L386.57 553.30L386.96 554.00L387.36 554.70L387.76 555.40L388.16 556.10L388.56 556.80L388.96 557.50L389.37 558.20L389.78 558.90L390.18 559.60L390.59 560.30L391.01 561.00L391.42 561.70L391.83 562.40L392.25 563.10L392.67 563.80L393.09 564.50L393.51 565.20L393.93 565.90L394.36 566.60L394.79 567.30L395.21 568.00L395.64 568.70L396.08 569.40L396.51 570.10L396.95 570.80L397.38 571.50L397.82 572.20L398.26 572.90L398.71 573.60L399.15 574.30L399.60 575.00L400.04 575.70L400.49 576.40L400.94 577.10L401.40 577.80L401.85 578.50L402.31 579.20L402.77 579.90L403.23 580.60L403.69 581.30L404.15 582.00L404.62 582.70L405.09 583.40L405.55 584.10L406.03 584.80L406.50 585.50L406.97 586.20L407.45 586.90L407.93 587.60L408.41 588.30L408.89 589.00L409.37 589.70L409.86 590.40L410.35 591.10L410.84 591.80L411.33 592.50L411.82 593.20L412.31 593.90L412.81 594.60L413.31 595.30L413.81 596.00L414.31 596.70L414.82 597.40L415.32 598.10L415.83 598.80L416.34 599.50L416.85 600.20L417.37 600.90L417.88 601.60L418.40 602.30L418.92 603.00L419.44 603.70L419.96 604.40L420.49 605.10L421.02 605.80L421.55 606.50L422.08 607.20L422.61 607.90L423.14 608.60L423.68 609.30L424.22 610.00L424.76 610.70L425.30 611.40L425.85 612.10L426.40 612.80L426.94 613.50L427.50 614.20L428.05 614.90L428.60 615.60L429.16 616.30L429.72 617.00L430.28 617.70L430.84 618.40L431.41 619.10L431.97 619.80L432.54 620.50L433.11 621.20L433.69 621.90L434.26 622.60L434.84 623.30L435.42 624.00L436.00 624.70L436.58 625.40L437.17 626.10L437.75 626.80L438.34 627.50L438.93 628.20L439.53 628.90L440.12 629.60L440.72 630.30L441.32 631.00L441.92 631.70L442.52 632.40L443.13 633.10L443.74 633.80L444.35 634.50L444.96 635.20L445.57 635.90L446.19 636.60L446.81 637.30L447.43 638.00L448.05 638.70L448.68 639.40L449.30 640.10L449.93 640.80L450.56 641.50L451.20 642.20L451.83 642.90L452.47 643.60L453.11 644.30L453.75 645.00L454.40 645.70L455.04 646.40L455.69 647.10L456.34 647.80L456.99 648.50L457.65 649.20L458.31 649.90L458.97 650.60L459.63 651.30L460.29 652.00L460.96 652.70L461.63 653.40L462.30 654.10L462.97 654.80L463.64 655.50L464.32 656.20L465.00 656.90L465.68 657.60L466.37 658.30L467.05 659.00L467.74 659.70L468.43 660.40L469.12 661.10L469.82 661.80L470.52 662.50L471.22 663.20L471.92 663.90L472.62 664.60L473.33 665.30L474.04 666.00L474.75 666.70L475.46 667.40L476.18 668.10L476.89 668.80L477.61 669.50L478.34 670.20L479.06 670.90L479.79 671.60L480.52 672.30L481.25 673.00L481.98 673.70L482.72 674.40L483.46 675.10L484.20 675.80L484.94 676.50L485.69 677.20L486.44 677.90" fill="none" stroke="#4276c8" stroke-width="1.05" stroke-dasharray="3.3 1.6 0.8 1.3"/>
<path d="M325.30 422.30L330.70 409.70L334.00 406.30L335.38 406.30L335.81 407.00L336.23 407.70L336.64 408.40L337.06 409.10L337.47 409.80L337.88 410.50L338.29 411.20L338.69 411.90L339.09 412.60L339.49 413.30L339.89 414.00L340.28 414.70L340.67 415.40L341.06 416.10L341.44 416.80L341.83 417.50L342.21 418.20L342.59 418.90L342.96 419.60L343.33 420.30L343.71 421.00L344.08 421.70L344.44 422.40L344.81 423.10L345.17 423.80L345.53 424.50L345.89 425.20L346.25 425.90L346.60 426.60L346.95 427.30L347.30 428.00L347.65 428.70L348.00 429.40L348.35 430.10L348.69 430.80L349.03 431.50L349.37 432.20L349.71 432.90L350.05 433.60L350.39 434.30L350.72 435.00L351.05 435.70L351.38 436.40L351.71 437.10L352.04 437.80L352.37 438.50L352.70 439.20L353.02 439.90L353.35 440.60L353.67 441.30L353.99 442.00L354.31 442.70L354.63 443.40L354.95 444.10L355.27 444.80L355.59 445.50L355.90 446.20L356.22 446.90L356.53 447.60L356.85 448.30L357.16 449.00L357.47 449.70L357.79 450.40L358.10 451.10L358.41 451.80L358.72 452.50L359.03 453.20L359.34 453.90L359.65 454.60L359.96 455.30L360.26 456.00L360.57 456.70L360.88 457.40L361.19 458.10L361.50 458.80L361.80 459.50L362.11 460.20L362.42 460.90L362.73 461.60L363.03 462.30L363.34 463.00L363.65 463.70L363.96 464.40L364.27 465.10L364.58 465.80L364.88 466.50L365.19 467.20L365.50 467.90L365.81 468.60L366.12 469.30L366.43 470.00L366.75 470.70L367.06 471.40L367.37 472.10L367.68 472.80L368.00 473.50L368.31 474.20L368.63 474.90L368.94 475.60L369.26 476.30L369.58 477.00L369.90 477.70L370.22 478.40L370.54 479.10L370.86 479.80L371.18 480.50L371.51 481.20L371.83 481.90L372.16 482.60L372.49 483.30L372.82 484.00L373.15 484.70L373.48 485.40L373.81 486.10L374.15 486.80L374.48 487.50L374.82 488.20L375.16 488.90L375.50 489.60L375.84 490.30L376.19 491.00L376.53 491.70L376.88 492.40L377.23 493.10L377.58 493.80L377.93 494.50L378.29 495.20L378.65 495.90L379.00 496.60L379.37 497.30L379.73 498.00L380.09 498.70L380.46 499.40L380.83 500.10L381.20 500.80L381.57 501.50L381.95 502.20L382.33 502.90L382.71 503.60L383.09 504.30L383.48 505.00L383.87 505.70L384.26 506.40L384.65 507.10L385.05 507.80L385.45 508.50L385.85 509.20L386.25 509.90L386.66 510.60L387.07 511.30L387.48 512.00L387.90 512.70L388.31 513.40L388.73 514.10L389.16 514.80L389.59 515.50L390.02 516.20L390.45 516.90L390.89 517.60L391.33 518.30L391.77 519.00L392.22 519.70L392.67 520.40L393.12 521.10L393.57 521.80L394.03 522.50L394.50 523.20L394.97 523.90L395.44 524.60L395.91 525.30L396.39 526.00L396.87 526.70L397.35 527.40L397.84 528.10L398.34 528.80L398.83 529.50L399.33 530.20L399.84 530.90L400.34 531.60L400.86 532.30L401.37 533.00L401.89 533.70L402.42 534.40L402.94 535.10L403.48 535.80L404.01 536.50L404.55 537.20L405.09 537.90L405.63 538.60L406.18 539.30L406.73 540.00L407.28 540.70L407.84 541.40L408.39 542.10L408.95 542.80L409.52 543.50L410.08 544.20L410.65 544.90L411.21 545.60L411.78 546.30L412.35 547.00L412.92 547.70L413.50 548.40L414.07 549.10L414.65 549.80L415.22 550.50L415.80 551.20L416.37 551.90L416.95 552.60L417.53 553.30L418.11 554.00L418.69 554.70L419.26 555.40L419.84 556.10L420.42 556.80L421.00 557.50L421.57 558.20L422.15 558.90L422.72 559.60L423.30 560.30L423.87 561.00L424.44 561.70L425.01 562.40L425.58 563.10L426.14 563.80L426.71 564.50L427.27 565.20L427.83 565.90L428.39 566.60L428.95 567.30L429.50 568.00L430.05 568.70L430.60 569.40L431.15 570.10L431.69 570.80L432.23 571.50L432.77 572.20L433.31 572.90L433.84 573.60L434.37 574.30L434.90 575.00L435.42 575.70L435.95 576.40L436.47 577.10L436.99 577.80L437.51 578.50L438.03 579.20L438.55 579.90L439.07 580.60L439.59 581.30L440.10 582.00L440.62 582.70L441.13 583.40L441.65 584.10L442.16 584.80L442.68 585.50L443.19 586.20L443.71 586.90L444.23 587.60L444.74 588.30L445.26 589.00L445.78 589.70L446.30 590.40L446.82 591.10L447.34 591.80L447.87 592.50L448.39 593.20L448.92 593.90L449.45 594.60L449.98 595.30L450.52 596.00L451.05 596.70L451.59 597.40L452.13 598.10L452.68 598.80L453.23 599.50L453.78 600.20L454.33 600.90L454.89 601.60L455.45 602.30L456.01 603.00L456.58 603.70L457.16 604.40L457.73 605.10L458.31 605.80L458.90 606.50L459.49 607.20L460.08 607.90L460.68 608.60L461.29 609.30L461.90 610.00L462.51 610.70L463.13 611.40L463.76 612.10L464.39 612.80L465.03 613.50L465.67 614.20L466.32 614.90L466.98 615.60L467.64 616.30L468.31 617.00L468.98 617.70L469.66 618.40L470.35 619.10L471.04 619.80L471.74 620.50L472.45 621.20L473.16 621.90L473.87 622.60L474.59 623.30L475.32 624.00L476.05 624.70L476.79 625.40L477.53 626.10L478.28 626.80L479.03 627.50L479.79 628.20L480.55 628.90L481.32 629.60L482.09 630.30L482.86 631.00L483.64 631.70L484.43 632.40L485.22 633.10L486.01 633.80L486.80 634.50L487.61 635.20L488.41 635.90L489.22 636.60L490.03 637.30L490.85 638.00L491.67 638.70L492.49 639.40L493.32 640.10L494.15 640.80L494.98 641.50L495.81 642.20L496.65 642.90L497.50 643.60L498.34 644.30L499.19 645.00L500.04 645.70L500.89 646.40L501.75 647.10L502.60 647.80L503.46 648.50L504.33 649.20L505.19 649.90L506.06 650.60L506.93 651.30L507.80 652.00L508.67 652.70L509.54 653.40L510.42 654.10L511.29 654.80L512.17 655.50L513.05 656.20L513.93 656.90L514.82 657.60L515.70 658.30L516.59 659.00L517.47 659.70L518.36 660.40L519.24 661.10L520.13 661.80L521.02 662.50L521.91 663.20L522.80 663.90L523.69 664.60L524.58 665.30L525.47 666.00L526.36 666.70L527.25 667.40L528.14 668.10L529.03 668.80L529.92 669.50L530.81 670.20L531.70 670.90L532.58 671.60L533.47 672.30L534.36 673.00L535.24 673.70L536.13 674.40L537.01 675.10L537.90 675.80L538.78 676.50L539.66 677.20L540.54 677.90" fill="none" stroke="#d8633a" stroke-width="1.05" stroke-dasharray="3.5 2.7"/>
</svg></body></html>
